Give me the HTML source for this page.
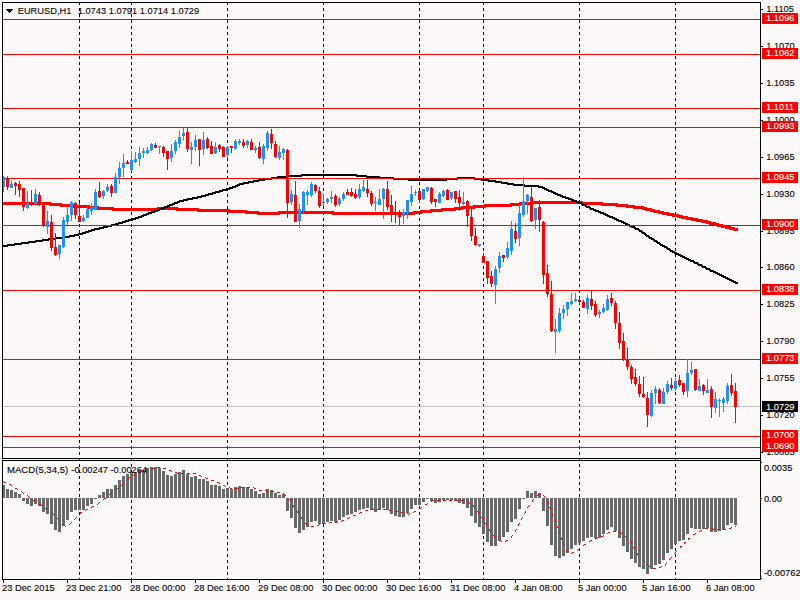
<!DOCTYPE html>
<html><head><meta charset="utf-8"><title>EURUSD,H1</title>
<style>html,body{margin:0;padding:0;background:#FDF9F8;}svg{display:block}</style>
</head><body>
<svg width="800" height="600" viewBox="0 0 800 600">
<rect x="0" y="0" width="800" height="600" fill="#FDF9F8"/>
<g shape-rendering="crispEdges">
<rect x="79" y="2" width="1" height="3" fill="#000"/>
<rect x="79" y="8" width="1" height="3" fill="#000"/>
<rect x="79" y="14" width="1" height="3" fill="#000"/>
<rect x="79" y="20" width="1" height="3" fill="#000"/>
<rect x="79" y="26" width="1" height="3" fill="#000"/>
<rect x="79" y="32" width="1" height="3" fill="#000"/>
<rect x="79" y="38" width="1" height="3" fill="#000"/>
<rect x="79" y="44" width="1" height="3" fill="#000"/>
<rect x="79" y="50" width="1" height="3" fill="#000"/>
<rect x="79" y="56" width="1" height="3" fill="#000"/>
<rect x="79" y="62" width="1" height="3" fill="#000"/>
<rect x="79" y="68" width="1" height="3" fill="#000"/>
<rect x="79" y="74" width="1" height="3" fill="#000"/>
<rect x="79" y="80" width="1" height="3" fill="#000"/>
<rect x="79" y="86" width="1" height="3" fill="#000"/>
<rect x="79" y="92" width="1" height="3" fill="#000"/>
<rect x="79" y="98" width="1" height="3" fill="#000"/>
<rect x="79" y="104" width="1" height="3" fill="#000"/>
<rect x="79" y="110" width="1" height="3" fill="#000"/>
<rect x="79" y="116" width="1" height="3" fill="#000"/>
<rect x="79" y="122" width="1" height="3" fill="#000"/>
<rect x="79" y="128" width="1" height="3" fill="#000"/>
<rect x="79" y="134" width="1" height="3" fill="#000"/>
<rect x="79" y="140" width="1" height="3" fill="#000"/>
<rect x="79" y="146" width="1" height="3" fill="#000"/>
<rect x="79" y="152" width="1" height="3" fill="#000"/>
<rect x="79" y="158" width="1" height="3" fill="#000"/>
<rect x="79" y="164" width="1" height="3" fill="#000"/>
<rect x="79" y="170" width="1" height="3" fill="#000"/>
<rect x="79" y="176" width="1" height="3" fill="#000"/>
<rect x="79" y="182" width="1" height="3" fill="#000"/>
<rect x="79" y="188" width="1" height="3" fill="#000"/>
<rect x="79" y="194" width="1" height="3" fill="#000"/>
<rect x="79" y="200" width="1" height="3" fill="#000"/>
<rect x="79" y="206" width="1" height="3" fill="#000"/>
<rect x="79" y="212" width="1" height="3" fill="#000"/>
<rect x="79" y="218" width="1" height="3" fill="#000"/>
<rect x="79" y="224" width="1" height="3" fill="#000"/>
<rect x="79" y="230" width="1" height="3" fill="#000"/>
<rect x="79" y="236" width="1" height="3" fill="#000"/>
<rect x="79" y="242" width="1" height="3" fill="#000"/>
<rect x="79" y="248" width="1" height="3" fill="#000"/>
<rect x="79" y="254" width="1" height="3" fill="#000"/>
<rect x="79" y="260" width="1" height="3" fill="#000"/>
<rect x="79" y="266" width="1" height="3" fill="#000"/>
<rect x="79" y="272" width="1" height="3" fill="#000"/>
<rect x="79" y="278" width="1" height="3" fill="#000"/>
<rect x="79" y="284" width="1" height="3" fill="#000"/>
<rect x="79" y="290" width="1" height="3" fill="#000"/>
<rect x="79" y="296" width="1" height="3" fill="#000"/>
<rect x="79" y="302" width="1" height="3" fill="#000"/>
<rect x="79" y="308" width="1" height="3" fill="#000"/>
<rect x="79" y="314" width="1" height="3" fill="#000"/>
<rect x="79" y="320" width="1" height="3" fill="#000"/>
<rect x="79" y="326" width="1" height="3" fill="#000"/>
<rect x="79" y="332" width="1" height="3" fill="#000"/>
<rect x="79" y="338" width="1" height="3" fill="#000"/>
<rect x="79" y="344" width="1" height="3" fill="#000"/>
<rect x="79" y="350" width="1" height="3" fill="#000"/>
<rect x="79" y="356" width="1" height="3" fill="#000"/>
<rect x="79" y="362" width="1" height="3" fill="#000"/>
<rect x="79" y="368" width="1" height="3" fill="#000"/>
<rect x="79" y="374" width="1" height="3" fill="#000"/>
<rect x="79" y="380" width="1" height="3" fill="#000"/>
<rect x="79" y="386" width="1" height="3" fill="#000"/>
<rect x="79" y="392" width="1" height="3" fill="#000"/>
<rect x="79" y="398" width="1" height="3" fill="#000"/>
<rect x="79" y="404" width="1" height="3" fill="#000"/>
<rect x="79" y="410" width="1" height="3" fill="#000"/>
<rect x="79" y="416" width="1" height="3" fill="#000"/>
<rect x="79" y="422" width="1" height="3" fill="#000"/>
<rect x="79" y="428" width="1" height="3" fill="#000"/>
<rect x="79" y="434" width="1" height="3" fill="#000"/>
<rect x="79" y="440" width="1" height="3" fill="#000"/>
<rect x="79" y="446" width="1" height="3" fill="#000"/>
<rect x="79" y="452" width="1" height="3" fill="#000"/>
<rect x="79" y="458" width="1" height="3" fill="#000"/>
<rect x="79" y="464" width="1" height="3" fill="#000"/>
<rect x="79" y="470" width="1" height="3" fill="#000"/>
<rect x="79" y="476" width="1" height="3" fill="#000"/>
<rect x="79" y="482" width="1" height="3" fill="#000"/>
<rect x="79" y="488" width="1" height="3" fill="#000"/>
<rect x="79" y="494" width="1" height="3" fill="#000"/>
<rect x="79" y="500" width="1" height="3" fill="#000"/>
<rect x="79" y="506" width="1" height="3" fill="#000"/>
<rect x="79" y="512" width="1" height="3" fill="#000"/>
<rect x="79" y="518" width="1" height="3" fill="#000"/>
<rect x="79" y="524" width="1" height="3" fill="#000"/>
<rect x="79" y="530" width="1" height="3" fill="#000"/>
<rect x="79" y="536" width="1" height="3" fill="#000"/>
<rect x="79" y="542" width="1" height="3" fill="#000"/>
<rect x="79" y="548" width="1" height="3" fill="#000"/>
<rect x="79" y="554" width="1" height="3" fill="#000"/>
<rect x="79" y="560" width="1" height="3" fill="#000"/>
<rect x="79" y="566" width="1" height="3" fill="#000"/>
<rect x="79" y="572" width="1" height="3" fill="#000"/>
<rect x="79" y="578" width="1" height="1" fill="#000"/>
<rect x="131" y="2" width="1" height="3" fill="#000"/>
<rect x="131" y="8" width="1" height="3" fill="#000"/>
<rect x="131" y="14" width="1" height="3" fill="#000"/>
<rect x="131" y="20" width="1" height="3" fill="#000"/>
<rect x="131" y="26" width="1" height="3" fill="#000"/>
<rect x="131" y="32" width="1" height="3" fill="#000"/>
<rect x="131" y="38" width="1" height="3" fill="#000"/>
<rect x="131" y="44" width="1" height="3" fill="#000"/>
<rect x="131" y="50" width="1" height="3" fill="#000"/>
<rect x="131" y="56" width="1" height="3" fill="#000"/>
<rect x="131" y="62" width="1" height="3" fill="#000"/>
<rect x="131" y="68" width="1" height="3" fill="#000"/>
<rect x="131" y="74" width="1" height="3" fill="#000"/>
<rect x="131" y="80" width="1" height="3" fill="#000"/>
<rect x="131" y="86" width="1" height="3" fill="#000"/>
<rect x="131" y="92" width="1" height="3" fill="#000"/>
<rect x="131" y="98" width="1" height="3" fill="#000"/>
<rect x="131" y="104" width="1" height="3" fill="#000"/>
<rect x="131" y="110" width="1" height="3" fill="#000"/>
<rect x="131" y="116" width="1" height="3" fill="#000"/>
<rect x="131" y="122" width="1" height="3" fill="#000"/>
<rect x="131" y="128" width="1" height="3" fill="#000"/>
<rect x="131" y="134" width="1" height="3" fill="#000"/>
<rect x="131" y="140" width="1" height="3" fill="#000"/>
<rect x="131" y="146" width="1" height="3" fill="#000"/>
<rect x="131" y="152" width="1" height="3" fill="#000"/>
<rect x="131" y="158" width="1" height="3" fill="#000"/>
<rect x="131" y="164" width="1" height="3" fill="#000"/>
<rect x="131" y="170" width="1" height="3" fill="#000"/>
<rect x="131" y="176" width="1" height="3" fill="#000"/>
<rect x="131" y="182" width="1" height="3" fill="#000"/>
<rect x="131" y="188" width="1" height="3" fill="#000"/>
<rect x="131" y="194" width="1" height="3" fill="#000"/>
<rect x="131" y="200" width="1" height="3" fill="#000"/>
<rect x="131" y="206" width="1" height="3" fill="#000"/>
<rect x="131" y="212" width="1" height="3" fill="#000"/>
<rect x="131" y="218" width="1" height="3" fill="#000"/>
<rect x="131" y="224" width="1" height="3" fill="#000"/>
<rect x="131" y="230" width="1" height="3" fill="#000"/>
<rect x="131" y="236" width="1" height="3" fill="#000"/>
<rect x="131" y="242" width="1" height="3" fill="#000"/>
<rect x="131" y="248" width="1" height="3" fill="#000"/>
<rect x="131" y="254" width="1" height="3" fill="#000"/>
<rect x="131" y="260" width="1" height="3" fill="#000"/>
<rect x="131" y="266" width="1" height="3" fill="#000"/>
<rect x="131" y="272" width="1" height="3" fill="#000"/>
<rect x="131" y="278" width="1" height="3" fill="#000"/>
<rect x="131" y="284" width="1" height="3" fill="#000"/>
<rect x="131" y="290" width="1" height="3" fill="#000"/>
<rect x="131" y="296" width="1" height="3" fill="#000"/>
<rect x="131" y="302" width="1" height="3" fill="#000"/>
<rect x="131" y="308" width="1" height="3" fill="#000"/>
<rect x="131" y="314" width="1" height="3" fill="#000"/>
<rect x="131" y="320" width="1" height="3" fill="#000"/>
<rect x="131" y="326" width="1" height="3" fill="#000"/>
<rect x="131" y="332" width="1" height="3" fill="#000"/>
<rect x="131" y="338" width="1" height="3" fill="#000"/>
<rect x="131" y="344" width="1" height="3" fill="#000"/>
<rect x="131" y="350" width="1" height="3" fill="#000"/>
<rect x="131" y="356" width="1" height="3" fill="#000"/>
<rect x="131" y="362" width="1" height="3" fill="#000"/>
<rect x="131" y="368" width="1" height="3" fill="#000"/>
<rect x="131" y="374" width="1" height="3" fill="#000"/>
<rect x="131" y="380" width="1" height="3" fill="#000"/>
<rect x="131" y="386" width="1" height="3" fill="#000"/>
<rect x="131" y="392" width="1" height="3" fill="#000"/>
<rect x="131" y="398" width="1" height="3" fill="#000"/>
<rect x="131" y="404" width="1" height="3" fill="#000"/>
<rect x="131" y="410" width="1" height="3" fill="#000"/>
<rect x="131" y="416" width="1" height="3" fill="#000"/>
<rect x="131" y="422" width="1" height="3" fill="#000"/>
<rect x="131" y="428" width="1" height="3" fill="#000"/>
<rect x="131" y="434" width="1" height="3" fill="#000"/>
<rect x="131" y="440" width="1" height="3" fill="#000"/>
<rect x="131" y="446" width="1" height="3" fill="#000"/>
<rect x="131" y="452" width="1" height="3" fill="#000"/>
<rect x="131" y="458" width="1" height="3" fill="#000"/>
<rect x="131" y="464" width="1" height="3" fill="#000"/>
<rect x="131" y="470" width="1" height="3" fill="#000"/>
<rect x="131" y="476" width="1" height="3" fill="#000"/>
<rect x="131" y="482" width="1" height="3" fill="#000"/>
<rect x="131" y="488" width="1" height="3" fill="#000"/>
<rect x="131" y="494" width="1" height="3" fill="#000"/>
<rect x="131" y="500" width="1" height="3" fill="#000"/>
<rect x="131" y="506" width="1" height="3" fill="#000"/>
<rect x="131" y="512" width="1" height="3" fill="#000"/>
<rect x="131" y="518" width="1" height="3" fill="#000"/>
<rect x="131" y="524" width="1" height="3" fill="#000"/>
<rect x="131" y="530" width="1" height="3" fill="#000"/>
<rect x="131" y="536" width="1" height="3" fill="#000"/>
<rect x="131" y="542" width="1" height="3" fill="#000"/>
<rect x="131" y="548" width="1" height="3" fill="#000"/>
<rect x="131" y="554" width="1" height="3" fill="#000"/>
<rect x="131" y="560" width="1" height="3" fill="#000"/>
<rect x="131" y="566" width="1" height="3" fill="#000"/>
<rect x="131" y="572" width="1" height="3" fill="#000"/>
<rect x="131" y="578" width="1" height="1" fill="#000"/>
<rect x="227" y="2" width="1" height="3" fill="#000"/>
<rect x="227" y="8" width="1" height="3" fill="#000"/>
<rect x="227" y="14" width="1" height="3" fill="#000"/>
<rect x="227" y="20" width="1" height="3" fill="#000"/>
<rect x="227" y="26" width="1" height="3" fill="#000"/>
<rect x="227" y="32" width="1" height="3" fill="#000"/>
<rect x="227" y="38" width="1" height="3" fill="#000"/>
<rect x="227" y="44" width="1" height="3" fill="#000"/>
<rect x="227" y="50" width="1" height="3" fill="#000"/>
<rect x="227" y="56" width="1" height="3" fill="#000"/>
<rect x="227" y="62" width="1" height="3" fill="#000"/>
<rect x="227" y="68" width="1" height="3" fill="#000"/>
<rect x="227" y="74" width="1" height="3" fill="#000"/>
<rect x="227" y="80" width="1" height="3" fill="#000"/>
<rect x="227" y="86" width="1" height="3" fill="#000"/>
<rect x="227" y="92" width="1" height="3" fill="#000"/>
<rect x="227" y="98" width="1" height="3" fill="#000"/>
<rect x="227" y="104" width="1" height="3" fill="#000"/>
<rect x="227" y="110" width="1" height="3" fill="#000"/>
<rect x="227" y="116" width="1" height="3" fill="#000"/>
<rect x="227" y="122" width="1" height="3" fill="#000"/>
<rect x="227" y="128" width="1" height="3" fill="#000"/>
<rect x="227" y="134" width="1" height="3" fill="#000"/>
<rect x="227" y="140" width="1" height="3" fill="#000"/>
<rect x="227" y="146" width="1" height="3" fill="#000"/>
<rect x="227" y="152" width="1" height="3" fill="#000"/>
<rect x="227" y="158" width="1" height="3" fill="#000"/>
<rect x="227" y="164" width="1" height="3" fill="#000"/>
<rect x="227" y="170" width="1" height="3" fill="#000"/>
<rect x="227" y="176" width="1" height="3" fill="#000"/>
<rect x="227" y="182" width="1" height="3" fill="#000"/>
<rect x="227" y="188" width="1" height="3" fill="#000"/>
<rect x="227" y="194" width="1" height="3" fill="#000"/>
<rect x="227" y="200" width="1" height="3" fill="#000"/>
<rect x="227" y="206" width="1" height="3" fill="#000"/>
<rect x="227" y="212" width="1" height="3" fill="#000"/>
<rect x="227" y="218" width="1" height="3" fill="#000"/>
<rect x="227" y="224" width="1" height="3" fill="#000"/>
<rect x="227" y="230" width="1" height="3" fill="#000"/>
<rect x="227" y="236" width="1" height="3" fill="#000"/>
<rect x="227" y="242" width="1" height="3" fill="#000"/>
<rect x="227" y="248" width="1" height="3" fill="#000"/>
<rect x="227" y="254" width="1" height="3" fill="#000"/>
<rect x="227" y="260" width="1" height="3" fill="#000"/>
<rect x="227" y="266" width="1" height="3" fill="#000"/>
<rect x="227" y="272" width="1" height="3" fill="#000"/>
<rect x="227" y="278" width="1" height="3" fill="#000"/>
<rect x="227" y="284" width="1" height="3" fill="#000"/>
<rect x="227" y="290" width="1" height="3" fill="#000"/>
<rect x="227" y="296" width="1" height="3" fill="#000"/>
<rect x="227" y="302" width="1" height="3" fill="#000"/>
<rect x="227" y="308" width="1" height="3" fill="#000"/>
<rect x="227" y="314" width="1" height="3" fill="#000"/>
<rect x="227" y="320" width="1" height="3" fill="#000"/>
<rect x="227" y="326" width="1" height="3" fill="#000"/>
<rect x="227" y="332" width="1" height="3" fill="#000"/>
<rect x="227" y="338" width="1" height="3" fill="#000"/>
<rect x="227" y="344" width="1" height="3" fill="#000"/>
<rect x="227" y="350" width="1" height="3" fill="#000"/>
<rect x="227" y="356" width="1" height="3" fill="#000"/>
<rect x="227" y="362" width="1" height="3" fill="#000"/>
<rect x="227" y="368" width="1" height="3" fill="#000"/>
<rect x="227" y="374" width="1" height="3" fill="#000"/>
<rect x="227" y="380" width="1" height="3" fill="#000"/>
<rect x="227" y="386" width="1" height="3" fill="#000"/>
<rect x="227" y="392" width="1" height="3" fill="#000"/>
<rect x="227" y="398" width="1" height="3" fill="#000"/>
<rect x="227" y="404" width="1" height="3" fill="#000"/>
<rect x="227" y="410" width="1" height="3" fill="#000"/>
<rect x="227" y="416" width="1" height="3" fill="#000"/>
<rect x="227" y="422" width="1" height="3" fill="#000"/>
<rect x="227" y="428" width="1" height="3" fill="#000"/>
<rect x="227" y="434" width="1" height="3" fill="#000"/>
<rect x="227" y="440" width="1" height="3" fill="#000"/>
<rect x="227" y="446" width="1" height="3" fill="#000"/>
<rect x="227" y="452" width="1" height="3" fill="#000"/>
<rect x="227" y="458" width="1" height="3" fill="#000"/>
<rect x="227" y="464" width="1" height="3" fill="#000"/>
<rect x="227" y="470" width="1" height="3" fill="#000"/>
<rect x="227" y="476" width="1" height="3" fill="#000"/>
<rect x="227" y="482" width="1" height="3" fill="#000"/>
<rect x="227" y="488" width="1" height="3" fill="#000"/>
<rect x="227" y="494" width="1" height="3" fill="#000"/>
<rect x="227" y="500" width="1" height="3" fill="#000"/>
<rect x="227" y="506" width="1" height="3" fill="#000"/>
<rect x="227" y="512" width="1" height="3" fill="#000"/>
<rect x="227" y="518" width="1" height="3" fill="#000"/>
<rect x="227" y="524" width="1" height="3" fill="#000"/>
<rect x="227" y="530" width="1" height="3" fill="#000"/>
<rect x="227" y="536" width="1" height="3" fill="#000"/>
<rect x="227" y="542" width="1" height="3" fill="#000"/>
<rect x="227" y="548" width="1" height="3" fill="#000"/>
<rect x="227" y="554" width="1" height="3" fill="#000"/>
<rect x="227" y="560" width="1" height="3" fill="#000"/>
<rect x="227" y="566" width="1" height="3" fill="#000"/>
<rect x="227" y="572" width="1" height="3" fill="#000"/>
<rect x="227" y="578" width="1" height="1" fill="#000"/>
<rect x="323" y="2" width="1" height="3" fill="#000"/>
<rect x="323" y="8" width="1" height="3" fill="#000"/>
<rect x="323" y="14" width="1" height="3" fill="#000"/>
<rect x="323" y="20" width="1" height="3" fill="#000"/>
<rect x="323" y="26" width="1" height="3" fill="#000"/>
<rect x="323" y="32" width="1" height="3" fill="#000"/>
<rect x="323" y="38" width="1" height="3" fill="#000"/>
<rect x="323" y="44" width="1" height="3" fill="#000"/>
<rect x="323" y="50" width="1" height="3" fill="#000"/>
<rect x="323" y="56" width="1" height="3" fill="#000"/>
<rect x="323" y="62" width="1" height="3" fill="#000"/>
<rect x="323" y="68" width="1" height="3" fill="#000"/>
<rect x="323" y="74" width="1" height="3" fill="#000"/>
<rect x="323" y="80" width="1" height="3" fill="#000"/>
<rect x="323" y="86" width="1" height="3" fill="#000"/>
<rect x="323" y="92" width="1" height="3" fill="#000"/>
<rect x="323" y="98" width="1" height="3" fill="#000"/>
<rect x="323" y="104" width="1" height="3" fill="#000"/>
<rect x="323" y="110" width="1" height="3" fill="#000"/>
<rect x="323" y="116" width="1" height="3" fill="#000"/>
<rect x="323" y="122" width="1" height="3" fill="#000"/>
<rect x="323" y="128" width="1" height="3" fill="#000"/>
<rect x="323" y="134" width="1" height="3" fill="#000"/>
<rect x="323" y="140" width="1" height="3" fill="#000"/>
<rect x="323" y="146" width="1" height="3" fill="#000"/>
<rect x="323" y="152" width="1" height="3" fill="#000"/>
<rect x="323" y="158" width="1" height="3" fill="#000"/>
<rect x="323" y="164" width="1" height="3" fill="#000"/>
<rect x="323" y="170" width="1" height="3" fill="#000"/>
<rect x="323" y="176" width="1" height="3" fill="#000"/>
<rect x="323" y="182" width="1" height="3" fill="#000"/>
<rect x="323" y="188" width="1" height="3" fill="#000"/>
<rect x="323" y="194" width="1" height="3" fill="#000"/>
<rect x="323" y="200" width="1" height="3" fill="#000"/>
<rect x="323" y="206" width="1" height="3" fill="#000"/>
<rect x="323" y="212" width="1" height="3" fill="#000"/>
<rect x="323" y="218" width="1" height="3" fill="#000"/>
<rect x="323" y="224" width="1" height="3" fill="#000"/>
<rect x="323" y="230" width="1" height="3" fill="#000"/>
<rect x="323" y="236" width="1" height="3" fill="#000"/>
<rect x="323" y="242" width="1" height="3" fill="#000"/>
<rect x="323" y="248" width="1" height="3" fill="#000"/>
<rect x="323" y="254" width="1" height="3" fill="#000"/>
<rect x="323" y="260" width="1" height="3" fill="#000"/>
<rect x="323" y="266" width="1" height="3" fill="#000"/>
<rect x="323" y="272" width="1" height="3" fill="#000"/>
<rect x="323" y="278" width="1" height="3" fill="#000"/>
<rect x="323" y="284" width="1" height="3" fill="#000"/>
<rect x="323" y="290" width="1" height="3" fill="#000"/>
<rect x="323" y="296" width="1" height="3" fill="#000"/>
<rect x="323" y="302" width="1" height="3" fill="#000"/>
<rect x="323" y="308" width="1" height="3" fill="#000"/>
<rect x="323" y="314" width="1" height="3" fill="#000"/>
<rect x="323" y="320" width="1" height="3" fill="#000"/>
<rect x="323" y="326" width="1" height="3" fill="#000"/>
<rect x="323" y="332" width="1" height="3" fill="#000"/>
<rect x="323" y="338" width="1" height="3" fill="#000"/>
<rect x="323" y="344" width="1" height="3" fill="#000"/>
<rect x="323" y="350" width="1" height="3" fill="#000"/>
<rect x="323" y="356" width="1" height="3" fill="#000"/>
<rect x="323" y="362" width="1" height="3" fill="#000"/>
<rect x="323" y="368" width="1" height="3" fill="#000"/>
<rect x="323" y="374" width="1" height="3" fill="#000"/>
<rect x="323" y="380" width="1" height="3" fill="#000"/>
<rect x="323" y="386" width="1" height="3" fill="#000"/>
<rect x="323" y="392" width="1" height="3" fill="#000"/>
<rect x="323" y="398" width="1" height="3" fill="#000"/>
<rect x="323" y="404" width="1" height="3" fill="#000"/>
<rect x="323" y="410" width="1" height="3" fill="#000"/>
<rect x="323" y="416" width="1" height="3" fill="#000"/>
<rect x="323" y="422" width="1" height="3" fill="#000"/>
<rect x="323" y="428" width="1" height="3" fill="#000"/>
<rect x="323" y="434" width="1" height="3" fill="#000"/>
<rect x="323" y="440" width="1" height="3" fill="#000"/>
<rect x="323" y="446" width="1" height="3" fill="#000"/>
<rect x="323" y="452" width="1" height="3" fill="#000"/>
<rect x="323" y="458" width="1" height="3" fill="#000"/>
<rect x="323" y="464" width="1" height="3" fill="#000"/>
<rect x="323" y="470" width="1" height="3" fill="#000"/>
<rect x="323" y="476" width="1" height="3" fill="#000"/>
<rect x="323" y="482" width="1" height="3" fill="#000"/>
<rect x="323" y="488" width="1" height="3" fill="#000"/>
<rect x="323" y="494" width="1" height="3" fill="#000"/>
<rect x="323" y="500" width="1" height="3" fill="#000"/>
<rect x="323" y="506" width="1" height="3" fill="#000"/>
<rect x="323" y="512" width="1" height="3" fill="#000"/>
<rect x="323" y="518" width="1" height="3" fill="#000"/>
<rect x="323" y="524" width="1" height="3" fill="#000"/>
<rect x="323" y="530" width="1" height="3" fill="#000"/>
<rect x="323" y="536" width="1" height="3" fill="#000"/>
<rect x="323" y="542" width="1" height="3" fill="#000"/>
<rect x="323" y="548" width="1" height="3" fill="#000"/>
<rect x="323" y="554" width="1" height="3" fill="#000"/>
<rect x="323" y="560" width="1" height="3" fill="#000"/>
<rect x="323" y="566" width="1" height="3" fill="#000"/>
<rect x="323" y="572" width="1" height="3" fill="#000"/>
<rect x="323" y="578" width="1" height="1" fill="#000"/>
<rect x="419" y="2" width="1" height="3" fill="#000"/>
<rect x="419" y="8" width="1" height="3" fill="#000"/>
<rect x="419" y="14" width="1" height="3" fill="#000"/>
<rect x="419" y="20" width="1" height="3" fill="#000"/>
<rect x="419" y="26" width="1" height="3" fill="#000"/>
<rect x="419" y="32" width="1" height="3" fill="#000"/>
<rect x="419" y="38" width="1" height="3" fill="#000"/>
<rect x="419" y="44" width="1" height="3" fill="#000"/>
<rect x="419" y="50" width="1" height="3" fill="#000"/>
<rect x="419" y="56" width="1" height="3" fill="#000"/>
<rect x="419" y="62" width="1" height="3" fill="#000"/>
<rect x="419" y="68" width="1" height="3" fill="#000"/>
<rect x="419" y="74" width="1" height="3" fill="#000"/>
<rect x="419" y="80" width="1" height="3" fill="#000"/>
<rect x="419" y="86" width="1" height="3" fill="#000"/>
<rect x="419" y="92" width="1" height="3" fill="#000"/>
<rect x="419" y="98" width="1" height="3" fill="#000"/>
<rect x="419" y="104" width="1" height="3" fill="#000"/>
<rect x="419" y="110" width="1" height="3" fill="#000"/>
<rect x="419" y="116" width="1" height="3" fill="#000"/>
<rect x="419" y="122" width="1" height="3" fill="#000"/>
<rect x="419" y="128" width="1" height="3" fill="#000"/>
<rect x="419" y="134" width="1" height="3" fill="#000"/>
<rect x="419" y="140" width="1" height="3" fill="#000"/>
<rect x="419" y="146" width="1" height="3" fill="#000"/>
<rect x="419" y="152" width="1" height="3" fill="#000"/>
<rect x="419" y="158" width="1" height="3" fill="#000"/>
<rect x="419" y="164" width="1" height="3" fill="#000"/>
<rect x="419" y="170" width="1" height="3" fill="#000"/>
<rect x="419" y="176" width="1" height="3" fill="#000"/>
<rect x="419" y="182" width="1" height="3" fill="#000"/>
<rect x="419" y="188" width="1" height="3" fill="#000"/>
<rect x="419" y="194" width="1" height="3" fill="#000"/>
<rect x="419" y="200" width="1" height="3" fill="#000"/>
<rect x="419" y="206" width="1" height="3" fill="#000"/>
<rect x="419" y="212" width="1" height="3" fill="#000"/>
<rect x="419" y="218" width="1" height="3" fill="#000"/>
<rect x="419" y="224" width="1" height="3" fill="#000"/>
<rect x="419" y="230" width="1" height="3" fill="#000"/>
<rect x="419" y="236" width="1" height="3" fill="#000"/>
<rect x="419" y="242" width="1" height="3" fill="#000"/>
<rect x="419" y="248" width="1" height="3" fill="#000"/>
<rect x="419" y="254" width="1" height="3" fill="#000"/>
<rect x="419" y="260" width="1" height="3" fill="#000"/>
<rect x="419" y="266" width="1" height="3" fill="#000"/>
<rect x="419" y="272" width="1" height="3" fill="#000"/>
<rect x="419" y="278" width="1" height="3" fill="#000"/>
<rect x="419" y="284" width="1" height="3" fill="#000"/>
<rect x="419" y="290" width="1" height="3" fill="#000"/>
<rect x="419" y="296" width="1" height="3" fill="#000"/>
<rect x="419" y="302" width="1" height="3" fill="#000"/>
<rect x="419" y="308" width="1" height="3" fill="#000"/>
<rect x="419" y="314" width="1" height="3" fill="#000"/>
<rect x="419" y="320" width="1" height="3" fill="#000"/>
<rect x="419" y="326" width="1" height="3" fill="#000"/>
<rect x="419" y="332" width="1" height="3" fill="#000"/>
<rect x="419" y="338" width="1" height="3" fill="#000"/>
<rect x="419" y="344" width="1" height="3" fill="#000"/>
<rect x="419" y="350" width="1" height="3" fill="#000"/>
<rect x="419" y="356" width="1" height="3" fill="#000"/>
<rect x="419" y="362" width="1" height="3" fill="#000"/>
<rect x="419" y="368" width="1" height="3" fill="#000"/>
<rect x="419" y="374" width="1" height="3" fill="#000"/>
<rect x="419" y="380" width="1" height="3" fill="#000"/>
<rect x="419" y="386" width="1" height="3" fill="#000"/>
<rect x="419" y="392" width="1" height="3" fill="#000"/>
<rect x="419" y="398" width="1" height="3" fill="#000"/>
<rect x="419" y="404" width="1" height="3" fill="#000"/>
<rect x="419" y="410" width="1" height="3" fill="#000"/>
<rect x="419" y="416" width="1" height="3" fill="#000"/>
<rect x="419" y="422" width="1" height="3" fill="#000"/>
<rect x="419" y="428" width="1" height="3" fill="#000"/>
<rect x="419" y="434" width="1" height="3" fill="#000"/>
<rect x="419" y="440" width="1" height="3" fill="#000"/>
<rect x="419" y="446" width="1" height="3" fill="#000"/>
<rect x="419" y="452" width="1" height="3" fill="#000"/>
<rect x="419" y="458" width="1" height="3" fill="#000"/>
<rect x="419" y="464" width="1" height="3" fill="#000"/>
<rect x="419" y="470" width="1" height="3" fill="#000"/>
<rect x="419" y="476" width="1" height="3" fill="#000"/>
<rect x="419" y="482" width="1" height="3" fill="#000"/>
<rect x="419" y="488" width="1" height="3" fill="#000"/>
<rect x="419" y="494" width="1" height="3" fill="#000"/>
<rect x="419" y="500" width="1" height="3" fill="#000"/>
<rect x="419" y="506" width="1" height="3" fill="#000"/>
<rect x="419" y="512" width="1" height="3" fill="#000"/>
<rect x="419" y="518" width="1" height="3" fill="#000"/>
<rect x="419" y="524" width="1" height="3" fill="#000"/>
<rect x="419" y="530" width="1" height="3" fill="#000"/>
<rect x="419" y="536" width="1" height="3" fill="#000"/>
<rect x="419" y="542" width="1" height="3" fill="#000"/>
<rect x="419" y="548" width="1" height="3" fill="#000"/>
<rect x="419" y="554" width="1" height="3" fill="#000"/>
<rect x="419" y="560" width="1" height="3" fill="#000"/>
<rect x="419" y="566" width="1" height="3" fill="#000"/>
<rect x="419" y="572" width="1" height="3" fill="#000"/>
<rect x="419" y="578" width="1" height="1" fill="#000"/>
<rect x="483" y="2" width="1" height="3" fill="#000"/>
<rect x="483" y="8" width="1" height="3" fill="#000"/>
<rect x="483" y="14" width="1" height="3" fill="#000"/>
<rect x="483" y="20" width="1" height="3" fill="#000"/>
<rect x="483" y="26" width="1" height="3" fill="#000"/>
<rect x="483" y="32" width="1" height="3" fill="#000"/>
<rect x="483" y="38" width="1" height="3" fill="#000"/>
<rect x="483" y="44" width="1" height="3" fill="#000"/>
<rect x="483" y="50" width="1" height="3" fill="#000"/>
<rect x="483" y="56" width="1" height="3" fill="#000"/>
<rect x="483" y="62" width="1" height="3" fill="#000"/>
<rect x="483" y="68" width="1" height="3" fill="#000"/>
<rect x="483" y="74" width="1" height="3" fill="#000"/>
<rect x="483" y="80" width="1" height="3" fill="#000"/>
<rect x="483" y="86" width="1" height="3" fill="#000"/>
<rect x="483" y="92" width="1" height="3" fill="#000"/>
<rect x="483" y="98" width="1" height="3" fill="#000"/>
<rect x="483" y="104" width="1" height="3" fill="#000"/>
<rect x="483" y="110" width="1" height="3" fill="#000"/>
<rect x="483" y="116" width="1" height="3" fill="#000"/>
<rect x="483" y="122" width="1" height="3" fill="#000"/>
<rect x="483" y="128" width="1" height="3" fill="#000"/>
<rect x="483" y="134" width="1" height="3" fill="#000"/>
<rect x="483" y="140" width="1" height="3" fill="#000"/>
<rect x="483" y="146" width="1" height="3" fill="#000"/>
<rect x="483" y="152" width="1" height="3" fill="#000"/>
<rect x="483" y="158" width="1" height="3" fill="#000"/>
<rect x="483" y="164" width="1" height="3" fill="#000"/>
<rect x="483" y="170" width="1" height="3" fill="#000"/>
<rect x="483" y="176" width="1" height="3" fill="#000"/>
<rect x="483" y="182" width="1" height="3" fill="#000"/>
<rect x="483" y="188" width="1" height="3" fill="#000"/>
<rect x="483" y="194" width="1" height="3" fill="#000"/>
<rect x="483" y="200" width="1" height="3" fill="#000"/>
<rect x="483" y="206" width="1" height="3" fill="#000"/>
<rect x="483" y="212" width="1" height="3" fill="#000"/>
<rect x="483" y="218" width="1" height="3" fill="#000"/>
<rect x="483" y="224" width="1" height="3" fill="#000"/>
<rect x="483" y="230" width="1" height="3" fill="#000"/>
<rect x="483" y="236" width="1" height="3" fill="#000"/>
<rect x="483" y="242" width="1" height="3" fill="#000"/>
<rect x="483" y="248" width="1" height="3" fill="#000"/>
<rect x="483" y="254" width="1" height="3" fill="#000"/>
<rect x="483" y="260" width="1" height="3" fill="#000"/>
<rect x="483" y="266" width="1" height="3" fill="#000"/>
<rect x="483" y="272" width="1" height="3" fill="#000"/>
<rect x="483" y="278" width="1" height="3" fill="#000"/>
<rect x="483" y="284" width="1" height="3" fill="#000"/>
<rect x="483" y="290" width="1" height="3" fill="#000"/>
<rect x="483" y="296" width="1" height="3" fill="#000"/>
<rect x="483" y="302" width="1" height="3" fill="#000"/>
<rect x="483" y="308" width="1" height="3" fill="#000"/>
<rect x="483" y="314" width="1" height="3" fill="#000"/>
<rect x="483" y="320" width="1" height="3" fill="#000"/>
<rect x="483" y="326" width="1" height="3" fill="#000"/>
<rect x="483" y="332" width="1" height="3" fill="#000"/>
<rect x="483" y="338" width="1" height="3" fill="#000"/>
<rect x="483" y="344" width="1" height="3" fill="#000"/>
<rect x="483" y="350" width="1" height="3" fill="#000"/>
<rect x="483" y="356" width="1" height="3" fill="#000"/>
<rect x="483" y="362" width="1" height="3" fill="#000"/>
<rect x="483" y="368" width="1" height="3" fill="#000"/>
<rect x="483" y="374" width="1" height="3" fill="#000"/>
<rect x="483" y="380" width="1" height="3" fill="#000"/>
<rect x="483" y="386" width="1" height="3" fill="#000"/>
<rect x="483" y="392" width="1" height="3" fill="#000"/>
<rect x="483" y="398" width="1" height="3" fill="#000"/>
<rect x="483" y="404" width="1" height="3" fill="#000"/>
<rect x="483" y="410" width="1" height="3" fill="#000"/>
<rect x="483" y="416" width="1" height="3" fill="#000"/>
<rect x="483" y="422" width="1" height="3" fill="#000"/>
<rect x="483" y="428" width="1" height="3" fill="#000"/>
<rect x="483" y="434" width="1" height="3" fill="#000"/>
<rect x="483" y="440" width="1" height="3" fill="#000"/>
<rect x="483" y="446" width="1" height="3" fill="#000"/>
<rect x="483" y="452" width="1" height="3" fill="#000"/>
<rect x="483" y="458" width="1" height="3" fill="#000"/>
<rect x="483" y="464" width="1" height="3" fill="#000"/>
<rect x="483" y="470" width="1" height="3" fill="#000"/>
<rect x="483" y="476" width="1" height="3" fill="#000"/>
<rect x="483" y="482" width="1" height="3" fill="#000"/>
<rect x="483" y="488" width="1" height="3" fill="#000"/>
<rect x="483" y="494" width="1" height="3" fill="#000"/>
<rect x="483" y="500" width="1" height="3" fill="#000"/>
<rect x="483" y="506" width="1" height="3" fill="#000"/>
<rect x="483" y="512" width="1" height="3" fill="#000"/>
<rect x="483" y="518" width="1" height="3" fill="#000"/>
<rect x="483" y="524" width="1" height="3" fill="#000"/>
<rect x="483" y="530" width="1" height="3" fill="#000"/>
<rect x="483" y="536" width="1" height="3" fill="#000"/>
<rect x="483" y="542" width="1" height="3" fill="#000"/>
<rect x="483" y="548" width="1" height="3" fill="#000"/>
<rect x="483" y="554" width="1" height="3" fill="#000"/>
<rect x="483" y="560" width="1" height="3" fill="#000"/>
<rect x="483" y="566" width="1" height="3" fill="#000"/>
<rect x="483" y="572" width="1" height="3" fill="#000"/>
<rect x="483" y="578" width="1" height="1" fill="#000"/>
<rect x="579" y="2" width="1" height="3" fill="#000"/>
<rect x="579" y="8" width="1" height="3" fill="#000"/>
<rect x="579" y="14" width="1" height="3" fill="#000"/>
<rect x="579" y="20" width="1" height="3" fill="#000"/>
<rect x="579" y="26" width="1" height="3" fill="#000"/>
<rect x="579" y="32" width="1" height="3" fill="#000"/>
<rect x="579" y="38" width="1" height="3" fill="#000"/>
<rect x="579" y="44" width="1" height="3" fill="#000"/>
<rect x="579" y="50" width="1" height="3" fill="#000"/>
<rect x="579" y="56" width="1" height="3" fill="#000"/>
<rect x="579" y="62" width="1" height="3" fill="#000"/>
<rect x="579" y="68" width="1" height="3" fill="#000"/>
<rect x="579" y="74" width="1" height="3" fill="#000"/>
<rect x="579" y="80" width="1" height="3" fill="#000"/>
<rect x="579" y="86" width="1" height="3" fill="#000"/>
<rect x="579" y="92" width="1" height="3" fill="#000"/>
<rect x="579" y="98" width="1" height="3" fill="#000"/>
<rect x="579" y="104" width="1" height="3" fill="#000"/>
<rect x="579" y="110" width="1" height="3" fill="#000"/>
<rect x="579" y="116" width="1" height="3" fill="#000"/>
<rect x="579" y="122" width="1" height="3" fill="#000"/>
<rect x="579" y="128" width="1" height="3" fill="#000"/>
<rect x="579" y="134" width="1" height="3" fill="#000"/>
<rect x="579" y="140" width="1" height="3" fill="#000"/>
<rect x="579" y="146" width="1" height="3" fill="#000"/>
<rect x="579" y="152" width="1" height="3" fill="#000"/>
<rect x="579" y="158" width="1" height="3" fill="#000"/>
<rect x="579" y="164" width="1" height="3" fill="#000"/>
<rect x="579" y="170" width="1" height="3" fill="#000"/>
<rect x="579" y="176" width="1" height="3" fill="#000"/>
<rect x="579" y="182" width="1" height="3" fill="#000"/>
<rect x="579" y="188" width="1" height="3" fill="#000"/>
<rect x="579" y="194" width="1" height="3" fill="#000"/>
<rect x="579" y="200" width="1" height="3" fill="#000"/>
<rect x="579" y="206" width="1" height="3" fill="#000"/>
<rect x="579" y="212" width="1" height="3" fill="#000"/>
<rect x="579" y="218" width="1" height="3" fill="#000"/>
<rect x="579" y="224" width="1" height="3" fill="#000"/>
<rect x="579" y="230" width="1" height="3" fill="#000"/>
<rect x="579" y="236" width="1" height="3" fill="#000"/>
<rect x="579" y="242" width="1" height="3" fill="#000"/>
<rect x="579" y="248" width="1" height="3" fill="#000"/>
<rect x="579" y="254" width="1" height="3" fill="#000"/>
<rect x="579" y="260" width="1" height="3" fill="#000"/>
<rect x="579" y="266" width="1" height="3" fill="#000"/>
<rect x="579" y="272" width="1" height="3" fill="#000"/>
<rect x="579" y="278" width="1" height="3" fill="#000"/>
<rect x="579" y="284" width="1" height="3" fill="#000"/>
<rect x="579" y="290" width="1" height="3" fill="#000"/>
<rect x="579" y="296" width="1" height="3" fill="#000"/>
<rect x="579" y="302" width="1" height="3" fill="#000"/>
<rect x="579" y="308" width="1" height="3" fill="#000"/>
<rect x="579" y="314" width="1" height="3" fill="#000"/>
<rect x="579" y="320" width="1" height="3" fill="#000"/>
<rect x="579" y="326" width="1" height="3" fill="#000"/>
<rect x="579" y="332" width="1" height="3" fill="#000"/>
<rect x="579" y="338" width="1" height="3" fill="#000"/>
<rect x="579" y="344" width="1" height="3" fill="#000"/>
<rect x="579" y="350" width="1" height="3" fill="#000"/>
<rect x="579" y="356" width="1" height="3" fill="#000"/>
<rect x="579" y="362" width="1" height="3" fill="#000"/>
<rect x="579" y="368" width="1" height="3" fill="#000"/>
<rect x="579" y="374" width="1" height="3" fill="#000"/>
<rect x="579" y="380" width="1" height="3" fill="#000"/>
<rect x="579" y="386" width="1" height="3" fill="#000"/>
<rect x="579" y="392" width="1" height="3" fill="#000"/>
<rect x="579" y="398" width="1" height="3" fill="#000"/>
<rect x="579" y="404" width="1" height="3" fill="#000"/>
<rect x="579" y="410" width="1" height="3" fill="#000"/>
<rect x="579" y="416" width="1" height="3" fill="#000"/>
<rect x="579" y="422" width="1" height="3" fill="#000"/>
<rect x="579" y="428" width="1" height="3" fill="#000"/>
<rect x="579" y="434" width="1" height="3" fill="#000"/>
<rect x="579" y="440" width="1" height="3" fill="#000"/>
<rect x="579" y="446" width="1" height="3" fill="#000"/>
<rect x="579" y="452" width="1" height="3" fill="#000"/>
<rect x="579" y="458" width="1" height="3" fill="#000"/>
<rect x="579" y="464" width="1" height="3" fill="#000"/>
<rect x="579" y="470" width="1" height="3" fill="#000"/>
<rect x="579" y="476" width="1" height="3" fill="#000"/>
<rect x="579" y="482" width="1" height="3" fill="#000"/>
<rect x="579" y="488" width="1" height="3" fill="#000"/>
<rect x="579" y="494" width="1" height="3" fill="#000"/>
<rect x="579" y="500" width="1" height="3" fill="#000"/>
<rect x="579" y="506" width="1" height="3" fill="#000"/>
<rect x="579" y="512" width="1" height="3" fill="#000"/>
<rect x="579" y="518" width="1" height="3" fill="#000"/>
<rect x="579" y="524" width="1" height="3" fill="#000"/>
<rect x="579" y="530" width="1" height="3" fill="#000"/>
<rect x="579" y="536" width="1" height="3" fill="#000"/>
<rect x="579" y="542" width="1" height="3" fill="#000"/>
<rect x="579" y="548" width="1" height="3" fill="#000"/>
<rect x="579" y="554" width="1" height="3" fill="#000"/>
<rect x="579" y="560" width="1" height="3" fill="#000"/>
<rect x="579" y="566" width="1" height="3" fill="#000"/>
<rect x="579" y="572" width="1" height="3" fill="#000"/>
<rect x="579" y="578" width="1" height="1" fill="#000"/>
<rect x="675" y="2" width="1" height="3" fill="#000"/>
<rect x="675" y="8" width="1" height="3" fill="#000"/>
<rect x="675" y="14" width="1" height="3" fill="#000"/>
<rect x="675" y="20" width="1" height="3" fill="#000"/>
<rect x="675" y="26" width="1" height="3" fill="#000"/>
<rect x="675" y="32" width="1" height="3" fill="#000"/>
<rect x="675" y="38" width="1" height="3" fill="#000"/>
<rect x="675" y="44" width="1" height="3" fill="#000"/>
<rect x="675" y="50" width="1" height="3" fill="#000"/>
<rect x="675" y="56" width="1" height="3" fill="#000"/>
<rect x="675" y="62" width="1" height="3" fill="#000"/>
<rect x="675" y="68" width="1" height="3" fill="#000"/>
<rect x="675" y="74" width="1" height="3" fill="#000"/>
<rect x="675" y="80" width="1" height="3" fill="#000"/>
<rect x="675" y="86" width="1" height="3" fill="#000"/>
<rect x="675" y="92" width="1" height="3" fill="#000"/>
<rect x="675" y="98" width="1" height="3" fill="#000"/>
<rect x="675" y="104" width="1" height="3" fill="#000"/>
<rect x="675" y="110" width="1" height="3" fill="#000"/>
<rect x="675" y="116" width="1" height="3" fill="#000"/>
<rect x="675" y="122" width="1" height="3" fill="#000"/>
<rect x="675" y="128" width="1" height="3" fill="#000"/>
<rect x="675" y="134" width="1" height="3" fill="#000"/>
<rect x="675" y="140" width="1" height="3" fill="#000"/>
<rect x="675" y="146" width="1" height="3" fill="#000"/>
<rect x="675" y="152" width="1" height="3" fill="#000"/>
<rect x="675" y="158" width="1" height="3" fill="#000"/>
<rect x="675" y="164" width="1" height="3" fill="#000"/>
<rect x="675" y="170" width="1" height="3" fill="#000"/>
<rect x="675" y="176" width="1" height="3" fill="#000"/>
<rect x="675" y="182" width="1" height="3" fill="#000"/>
<rect x="675" y="188" width="1" height="3" fill="#000"/>
<rect x="675" y="194" width="1" height="3" fill="#000"/>
<rect x="675" y="200" width="1" height="3" fill="#000"/>
<rect x="675" y="206" width="1" height="3" fill="#000"/>
<rect x="675" y="212" width="1" height="3" fill="#000"/>
<rect x="675" y="218" width="1" height="3" fill="#000"/>
<rect x="675" y="224" width="1" height="3" fill="#000"/>
<rect x="675" y="230" width="1" height="3" fill="#000"/>
<rect x="675" y="236" width="1" height="3" fill="#000"/>
<rect x="675" y="242" width="1" height="3" fill="#000"/>
<rect x="675" y="248" width="1" height="3" fill="#000"/>
<rect x="675" y="254" width="1" height="3" fill="#000"/>
<rect x="675" y="260" width="1" height="3" fill="#000"/>
<rect x="675" y="266" width="1" height="3" fill="#000"/>
<rect x="675" y="272" width="1" height="3" fill="#000"/>
<rect x="675" y="278" width="1" height="3" fill="#000"/>
<rect x="675" y="284" width="1" height="3" fill="#000"/>
<rect x="675" y="290" width="1" height="3" fill="#000"/>
<rect x="675" y="296" width="1" height="3" fill="#000"/>
<rect x="675" y="302" width="1" height="3" fill="#000"/>
<rect x="675" y="308" width="1" height="3" fill="#000"/>
<rect x="675" y="314" width="1" height="3" fill="#000"/>
<rect x="675" y="320" width="1" height="3" fill="#000"/>
<rect x="675" y="326" width="1" height="3" fill="#000"/>
<rect x="675" y="332" width="1" height="3" fill="#000"/>
<rect x="675" y="338" width="1" height="3" fill="#000"/>
<rect x="675" y="344" width="1" height="3" fill="#000"/>
<rect x="675" y="350" width="1" height="3" fill="#000"/>
<rect x="675" y="356" width="1" height="3" fill="#000"/>
<rect x="675" y="362" width="1" height="3" fill="#000"/>
<rect x="675" y="368" width="1" height="3" fill="#000"/>
<rect x="675" y="374" width="1" height="3" fill="#000"/>
<rect x="675" y="380" width="1" height="3" fill="#000"/>
<rect x="675" y="386" width="1" height="3" fill="#000"/>
<rect x="675" y="392" width="1" height="3" fill="#000"/>
<rect x="675" y="398" width="1" height="3" fill="#000"/>
<rect x="675" y="404" width="1" height="3" fill="#000"/>
<rect x="675" y="410" width="1" height="3" fill="#000"/>
<rect x="675" y="416" width="1" height="3" fill="#000"/>
<rect x="675" y="422" width="1" height="3" fill="#000"/>
<rect x="675" y="428" width="1" height="3" fill="#000"/>
<rect x="675" y="434" width="1" height="3" fill="#000"/>
<rect x="675" y="440" width="1" height="3" fill="#000"/>
<rect x="675" y="446" width="1" height="3" fill="#000"/>
<rect x="675" y="452" width="1" height="3" fill="#000"/>
<rect x="675" y="458" width="1" height="3" fill="#000"/>
<rect x="675" y="464" width="1" height="3" fill="#000"/>
<rect x="675" y="470" width="1" height="3" fill="#000"/>
<rect x="675" y="476" width="1" height="3" fill="#000"/>
<rect x="675" y="482" width="1" height="3" fill="#000"/>
<rect x="675" y="488" width="1" height="3" fill="#000"/>
<rect x="675" y="494" width="1" height="3" fill="#000"/>
<rect x="675" y="500" width="1" height="3" fill="#000"/>
<rect x="675" y="506" width="1" height="3" fill="#000"/>
<rect x="675" y="512" width="1" height="3" fill="#000"/>
<rect x="675" y="518" width="1" height="3" fill="#000"/>
<rect x="675" y="524" width="1" height="3" fill="#000"/>
<rect x="675" y="530" width="1" height="3" fill="#000"/>
<rect x="675" y="536" width="1" height="3" fill="#000"/>
<rect x="675" y="542" width="1" height="3" fill="#000"/>
<rect x="675" y="548" width="1" height="3" fill="#000"/>
<rect x="675" y="554" width="1" height="3" fill="#000"/>
<rect x="675" y="560" width="1" height="3" fill="#000"/>
<rect x="675" y="566" width="1" height="3" fill="#000"/>
<rect x="675" y="572" width="1" height="3" fill="#000"/>
<rect x="675" y="578" width="1" height="1" fill="#000"/>
<rect x="3" y="406" width="758" height="1" fill="#C0C0C0"/>
<rect x="2" y="202" width="49" height="3" fill="#FF0000"/>
<rect x="49" y="203" width="13" height="3" fill="#FF0000"/>
<rect x="60" y="204" width="14" height="3" fill="#FF0000"/>
<rect x="72" y="205" width="18" height="3" fill="#FF0000"/>
<rect x="88" y="206" width="11" height="3" fill="#FF0000"/>
<rect x="97" y="207" width="17" height="3" fill="#FF0000"/>
<rect x="112" y="208" width="47" height="3" fill="#FF0000"/>
<rect x="157" y="207" width="21" height="3" fill="#FF0000"/>
<rect x="176" y="208" width="23" height="3" fill="#FF0000"/>
<rect x="197" y="209" width="33" height="3" fill="#FF0000"/>
<rect x="228" y="210" width="19" height="3" fill="#FF0000"/>
<rect x="245" y="211" width="14" height="3" fill="#FF0000"/>
<rect x="257" y="212" width="23" height="3" fill="#FF0000"/>
<rect x="278" y="211" width="56" height="3" fill="#FF0000"/>
<rect x="332" y="212" width="83" height="3" fill="#FF0000"/>
<rect x="413" y="211" width="9" height="3" fill="#FF0000"/>
<rect x="420" y="210" width="12" height="3" fill="#FF0000"/>
<rect x="430" y="209" width="13" height="3" fill="#FF0000"/>
<rect x="441" y="208" width="15" height="3" fill="#FF0000"/>
<rect x="454" y="207" width="9" height="3" fill="#FF0000"/>
<rect x="461" y="206" width="14" height="3" fill="#FF0000"/>
<rect x="473" y="205" width="13" height="3" fill="#FF0000"/>
<rect x="484" y="204" width="28" height="3" fill="#FF0000"/>
<rect x="510" y="203" width="11" height="3" fill="#FF0000"/>
<rect x="519" y="202" width="13" height="3" fill="#FF0000"/>
<rect x="530" y="201" width="53" height="3" fill="#FF0000"/>
<rect x="581" y="202" width="22" height="3" fill="#FF0000"/>
<rect x="601" y="203" width="17" height="3" fill="#FF0000"/>
<rect x="616" y="204" width="12" height="3" fill="#FF0000"/>
<rect x="626" y="205" width="9" height="3" fill="#FF0000"/>
<rect x="633" y="206" width="11" height="3" fill="#FF0000"/>
<rect x="642" y="207" width="5" height="3" fill="#FF0000"/>
<rect x="645" y="208" width="7" height="3" fill="#FF0000"/>
<rect x="650" y="209" width="5" height="3" fill="#FF0000"/>
<rect x="653" y="210" width="7" height="3" fill="#FF0000"/>
<rect x="658" y="211" width="6" height="3" fill="#FF0000"/>
<rect x="662" y="212" width="7" height="3" fill="#FF0000"/>
<rect x="667" y="213" width="7" height="3" fill="#FF0000"/>
<rect x="672" y="214" width="7" height="3" fill="#FF0000"/>
<rect x="677" y="215" width="6" height="3" fill="#FF0000"/>
<rect x="681" y="216" width="7" height="3" fill="#FF0000"/>
<rect x="686" y="217" width="7" height="3" fill="#FF0000"/>
<rect x="691" y="218" width="7" height="3" fill="#FF0000"/>
<rect x="696" y="219" width="7" height="3" fill="#FF0000"/>
<rect x="701" y="220" width="7" height="3" fill="#FF0000"/>
<rect x="706" y="221" width="5" height="3" fill="#FF0000"/>
<rect x="709" y="222" width="7" height="3" fill="#FF0000"/>
<rect x="714" y="223" width="5" height="3" fill="#FF0000"/>
<rect x="717" y="224" width="6" height="3" fill="#FF0000"/>
<rect x="721" y="225" width="6" height="3" fill="#FF0000"/>
<rect x="725" y="226" width="6" height="3" fill="#FF0000"/>
<rect x="729" y="227" width="6" height="3" fill="#FF0000"/>
<rect x="733" y="228" width="5" height="3" fill="#FF0000"/>
<rect x="3" y="245" width="5" height="2" fill="#000"/>
<rect x="7" y="244" width="8" height="2" fill="#000"/>
<rect x="14" y="243" width="8" height="2" fill="#000"/>
<rect x="21" y="242" width="8" height="2" fill="#000"/>
<rect x="28" y="241" width="8" height="2" fill="#000"/>
<rect x="35" y="240" width="8" height="2" fill="#000"/>
<rect x="42" y="239" width="7" height="2" fill="#000"/>
<rect x="48" y="238" width="8" height="2" fill="#000"/>
<rect x="55" y="237" width="8" height="2" fill="#000"/>
<rect x="62" y="236" width="8" height="2" fill="#000"/>
<rect x="69" y="235" width="6" height="2" fill="#000"/>
<rect x="74" y="234" width="5" height="2" fill="#000"/>
<rect x="78" y="233" width="5" height="2" fill="#000"/>
<rect x="82" y="232" width="4" height="2" fill="#000"/>
<rect x="85" y="231" width="4" height="2" fill="#000"/>
<rect x="88" y="230" width="4" height="2" fill="#000"/>
<rect x="91" y="229" width="4" height="2" fill="#000"/>
<rect x="94" y="228" width="6" height="2" fill="#000"/>
<rect x="99" y="227" width="5" height="2" fill="#000"/>
<rect x="103" y="226" width="5" height="2" fill="#000"/>
<rect x="107" y="225" width="5" height="2" fill="#000"/>
<rect x="111" y="224" width="5" height="2" fill="#000"/>
<rect x="115" y="223" width="4" height="2" fill="#000"/>
<rect x="118" y="222" width="5" height="2" fill="#000"/>
<rect x="122" y="221" width="4" height="2" fill="#000"/>
<rect x="125" y="220" width="4" height="2" fill="#000"/>
<rect x="128" y="219" width="5" height="2" fill="#000"/>
<rect x="132" y="218" width="4" height="2" fill="#000"/>
<rect x="135" y="217" width="4" height="2" fill="#000"/>
<rect x="138" y="216" width="4" height="2" fill="#000"/>
<rect x="141" y="215" width="3" height="2" fill="#000"/>
<rect x="143" y="214" width="4" height="2" fill="#000"/>
<rect x="146" y="213" width="3" height="2" fill="#000"/>
<rect x="148" y="212" width="4" height="2" fill="#000"/>
<rect x="151" y="211" width="4" height="2" fill="#000"/>
<rect x="154" y="210" width="4" height="2" fill="#000"/>
<rect x="157" y="209" width="3" height="2" fill="#000"/>
<rect x="159" y="208" width="4" height="2" fill="#000"/>
<rect x="162" y="207" width="3" height="2" fill="#000"/>
<rect x="164" y="206" width="4" height="2" fill="#000"/>
<rect x="167" y="205" width="3" height="2" fill="#000"/>
<rect x="169" y="204" width="4" height="2" fill="#000"/>
<rect x="172" y="203" width="3" height="2" fill="#000"/>
<rect x="174" y="202" width="4" height="2" fill="#000"/>
<rect x="177" y="201" width="3" height="2" fill="#000"/>
<rect x="179" y="200" width="5" height="2" fill="#000"/>
<rect x="183" y="199" width="5" height="2" fill="#000"/>
<rect x="187" y="198" width="6" height="2" fill="#000"/>
<rect x="192" y="197" width="6" height="2" fill="#000"/>
<rect x="197" y="196" width="5" height="2" fill="#000"/>
<rect x="201" y="195" width="5" height="2" fill="#000"/>
<rect x="205" y="194" width="4" height="2" fill="#000"/>
<rect x="208" y="193" width="5" height="2" fill="#000"/>
<rect x="212" y="192" width="4" height="2" fill="#000"/>
<rect x="215" y="191" width="5" height="2" fill="#000"/>
<rect x="219" y="190" width="4" height="2" fill="#000"/>
<rect x="222" y="189" width="5" height="2" fill="#000"/>
<rect x="226" y="188" width="4" height="2" fill="#000"/>
<rect x="229" y="187" width="4" height="2" fill="#000"/>
<rect x="232" y="186" width="4" height="2" fill="#000"/>
<rect x="235" y="185" width="3" height="2" fill="#000"/>
<rect x="237" y="184" width="3" height="2" fill="#000"/>
<rect x="239" y="183" width="5" height="2" fill="#000"/>
<rect x="243" y="182" width="6" height="2" fill="#000"/>
<rect x="248" y="181" width="6" height="2" fill="#000"/>
<rect x="253" y="180" width="6" height="2" fill="#000"/>
<rect x="258" y="179" width="7" height="2" fill="#000"/>
<rect x="264" y="178" width="8" height="2" fill="#000"/>
<rect x="271" y="177" width="7" height="2" fill="#000"/>
<rect x="277" y="176" width="12" height="2" fill="#000"/>
<rect x="288" y="175" width="14" height="2" fill="#000"/>
<rect x="301" y="174" width="56" height="2" fill="#000"/>
<rect x="356" y="175" width="11" height="2" fill="#000"/>
<rect x="366" y="176" width="14" height="2" fill="#000"/>
<rect x="379" y="177" width="15" height="2" fill="#000"/>
<rect x="393" y="178" width="16" height="2" fill="#000"/>
<rect x="408" y="179" width="39" height="2" fill="#000"/>
<rect x="446" y="178" width="12" height="2" fill="#000"/>
<rect x="457" y="177" width="18" height="2" fill="#000"/>
<rect x="474" y="178" width="8" height="2" fill="#000"/>
<rect x="481" y="179" width="8" height="2" fill="#000"/>
<rect x="488" y="180" width="8" height="2" fill="#000"/>
<rect x="495" y="181" width="7" height="2" fill="#000"/>
<rect x="501" y="182" width="7" height="2" fill="#000"/>
<rect x="507" y="183" width="7" height="2" fill="#000"/>
<rect x="513" y="184" width="12" height="2" fill="#000"/>
<rect x="524" y="185" width="15" height="2" fill="#000"/>
<rect x="538" y="186" width="5" height="2" fill="#000"/>
<rect x="542" y="187" width="3" height="2" fill="#000"/>
<rect x="544" y="188" width="3" height="2" fill="#000"/>
<rect x="546" y="189" width="3" height="2" fill="#000"/>
<rect x="548" y="190" width="4" height="2" fill="#000"/>
<rect x="551" y="191" width="3" height="2" fill="#000"/>
<rect x="553" y="192" width="3" height="2" fill="#000"/>
<rect x="555" y="193" width="3" height="2" fill="#000"/>
<rect x="557" y="194" width="4" height="2" fill="#000"/>
<rect x="560" y="195" width="3" height="2" fill="#000"/>
<rect x="562" y="196" width="4" height="2" fill="#000"/>
<rect x="565" y="197" width="4" height="2" fill="#000"/>
<rect x="568" y="198" width="4" height="2" fill="#000"/>
<rect x="571" y="199" width="3" height="2" fill="#000"/>
<rect x="573" y="200" width="4" height="2" fill="#000"/>
<rect x="576" y="201" width="3" height="2" fill="#000"/>
<rect x="578" y="202" width="4" height="2" fill="#000"/>
<rect x="581" y="203" width="2" height="2" fill="#000"/>
<rect x="582" y="204" width="4" height="2" fill="#000"/>
<rect x="585" y="205" width="2" height="2" fill="#000"/>
<rect x="586" y="206" width="4" height="2" fill="#000"/>
<rect x="589" y="207" width="2" height="2" fill="#000"/>
<rect x="590" y="208" width="4" height="2" fill="#000"/>
<rect x="593" y="209" width="3" height="2" fill="#000"/>
<rect x="595" y="210" width="4" height="2" fill="#000"/>
<rect x="598" y="211" width="3" height="2" fill="#000"/>
<rect x="600" y="212" width="4" height="2" fill="#000"/>
<rect x="603" y="213" width="3" height="2" fill="#000"/>
<rect x="605" y="214" width="3" height="2" fill="#000"/>
<rect x="607" y="215" width="3" height="2" fill="#000"/>
<rect x="609" y="216" width="4" height="2" fill="#000"/>
<rect x="612" y="217" width="3" height="2" fill="#000"/>
<rect x="614" y="218" width="3" height="2" fill="#000"/>
<rect x="616" y="219" width="3" height="2" fill="#000"/>
<rect x="618" y="220" width="4" height="2" fill="#000"/>
<rect x="621" y="221" width="3" height="2" fill="#000"/>
<rect x="623" y="222" width="3" height="2" fill="#000"/>
<rect x="625" y="223" width="3" height="2" fill="#000"/>
<rect x="627" y="224" width="3" height="2" fill="#000"/>
<rect x="629" y="225" width="3" height="2" fill="#000"/>
<rect x="631" y="226" width="4" height="2" fill="#000"/>
<rect x="634" y="227" width="2" height="2" fill="#000"/>
<rect x="635" y="228" width="4" height="2" fill="#000"/>
<rect x="638" y="229" width="2" height="2" fill="#000"/>
<rect x="639" y="230" width="3" height="2" fill="#000"/>
<rect x="641" y="231" width="2" height="2" fill="#000"/>
<rect x="642" y="232" width="3" height="2" fill="#000"/>
<rect x="644" y="233" width="2" height="2" fill="#000"/>
<rect x="645" y="234" width="2" height="2" fill="#000"/>
<rect x="646" y="235" width="3" height="2" fill="#000"/>
<rect x="648" y="236" width="2" height="2" fill="#000"/>
<rect x="649" y="237" width="3" height="2" fill="#000"/>
<rect x="651" y="238" width="3" height="2" fill="#000"/>
<rect x="653" y="239" width="2" height="2" fill="#000"/>
<rect x="654" y="240" width="3" height="2" fill="#000"/>
<rect x="656" y="241" width="2" height="2" fill="#000"/>
<rect x="657" y="242" width="3" height="2" fill="#000"/>
<rect x="659" y="243" width="2" height="2" fill="#000"/>
<rect x="660" y="244" width="3" height="2" fill="#000"/>
<rect x="662" y="245" width="3" height="2" fill="#000"/>
<rect x="664" y="246" width="3" height="2" fill="#000"/>
<rect x="666" y="247" width="2" height="2" fill="#000"/>
<rect x="667" y="248" width="3" height="2" fill="#000"/>
<rect x="669" y="249" width="2" height="2" fill="#000"/>
<rect x="670" y="250" width="3" height="2" fill="#000"/>
<rect x="672" y="251" width="3" height="2" fill="#000"/>
<rect x="674" y="252" width="3" height="2" fill="#000"/>
<rect x="676" y="253" width="3" height="2" fill="#000"/>
<rect x="678" y="254" width="3" height="2" fill="#000"/>
<rect x="680" y="255" width="3" height="2" fill="#000"/>
<rect x="682" y="256" width="3" height="2" fill="#000"/>
<rect x="684" y="257" width="3" height="2" fill="#000"/>
<rect x="686" y="258" width="3" height="2" fill="#000"/>
<rect x="688" y="259" width="3" height="2" fill="#000"/>
<rect x="690" y="260" width="4" height="2" fill="#000"/>
<rect x="693" y="261" width="2" height="2" fill="#000"/>
<rect x="694" y="262" width="4" height="2" fill="#000"/>
<rect x="697" y="263" width="2" height="2" fill="#000"/>
<rect x="698" y="264" width="4" height="2" fill="#000"/>
<rect x="701" y="265" width="2" height="2" fill="#000"/>
<rect x="702" y="266" width="4" height="2" fill="#000"/>
<rect x="705" y="267" width="2" height="2" fill="#000"/>
<rect x="706" y="268" width="4" height="2" fill="#000"/>
<rect x="709" y="269" width="2" height="2" fill="#000"/>
<rect x="710" y="270" width="4" height="2" fill="#000"/>
<rect x="713" y="271" width="3" height="2" fill="#000"/>
<rect x="715" y="272" width="3" height="2" fill="#000"/>
<rect x="717" y="273" width="3" height="2" fill="#000"/>
<rect x="719" y="274" width="3" height="2" fill="#000"/>
<rect x="721" y="275" width="3" height="2" fill="#000"/>
<rect x="723" y="276" width="3" height="2" fill="#000"/>
<rect x="725" y="277" width="3" height="2" fill="#000"/>
<rect x="727" y="278" width="3" height="2" fill="#000"/>
<rect x="729" y="279" width="3" height="2" fill="#000"/>
<rect x="731" y="280" width="3" height="2" fill="#000"/>
<rect x="733" y="281" width="3" height="2" fill="#000"/>
<rect x="735" y="282" width="3" height="2" fill="#000"/>
<rect x="3" y="19" width="757" height="1" fill="#FF0000"/>
<rect x="3" y="54" width="757" height="1" fill="#FF0000"/>
<rect x="3" y="108" width="757" height="1" fill="#FF0000"/>
<rect x="3" y="127" width="757" height="1" fill="#FF0000"/>
<rect x="3" y="178" width="757" height="1" fill="#FF0000"/>
<rect x="3" y="225" width="757" height="1" fill="#FF0000"/>
<rect x="3" y="290" width="757" height="1" fill="#FF0000"/>
<rect x="3" y="359" width="757" height="1" fill="#FF0000"/>
<rect x="3" y="436" width="757" height="1" fill="#FF0000"/>
<rect x="3" y="447" width="757" height="1" fill="#FF0000"/>
<rect x="3" y="176" width="1" height="16" fill="#1E90FF"/>
<rect x="2" y="177" width="3" height="10" fill="#1E90FF"/>
<rect x="7" y="176" width="1" height="14" fill="#FF0000"/>
<rect x="6" y="178" width="3" height="9" fill="#FF0000"/>
<rect x="11" y="181" width="1" height="7" fill="#1E90FF"/>
<rect x="10" y="184" width="3" height="4" fill="#1E90FF"/>
<rect x="15" y="182" width="1" height="13" fill="#FF0000"/>
<rect x="14" y="183" width="3" height="3" fill="#FF0000"/>
<rect x="19" y="181" width="1" height="16" fill="#FF0000"/>
<rect x="18" y="184" width="3" height="6" fill="#FF0000"/>
<rect x="23" y="188" width="1" height="23" fill="#FF0000"/>
<rect x="22" y="188" width="3" height="19" fill="#FF0000"/>
<rect x="27" y="191" width="1" height="18" fill="#1E90FF"/>
<rect x="26" y="203" width="3" height="5" fill="#1E90FF"/>
<rect x="31" y="190" width="1" height="16" fill="#FF0000"/>
<rect x="30" y="203" width="3" height="1" fill="#FF0000"/>
<rect x="35" y="189" width="1" height="15" fill="#1E90FF"/>
<rect x="34" y="194" width="3" height="10" fill="#1E90FF"/>
<rect x="39" y="192" width="1" height="14" fill="#FF0000"/>
<rect x="38" y="195" width="3" height="10" fill="#FF0000"/>
<rect x="43" y="203" width="1" height="24" fill="#FF0000"/>
<rect x="42" y="203" width="3" height="23" fill="#FF0000"/>
<rect x="47" y="211" width="1" height="23" fill="#1E90FF"/>
<rect x="46" y="221" width="3" height="6" fill="#1E90FF"/>
<rect x="51" y="215" width="1" height="36" fill="#FF0000"/>
<rect x="50" y="222" width="3" height="26" fill="#FF0000"/>
<rect x="55" y="233" width="1" height="23" fill="#FF0000"/>
<rect x="54" y="247" width="3" height="8" fill="#FF0000"/>
<rect x="59" y="245" width="1" height="14" fill="#1E90FF"/>
<rect x="58" y="245" width="3" height="9" fill="#1E90FF"/>
<rect x="63" y="217" width="1" height="31" fill="#1E90FF"/>
<rect x="62" y="220" width="3" height="27" fill="#1E90FF"/>
<rect x="67" y="207" width="1" height="18" fill="#1E90FF"/>
<rect x="66" y="215" width="3" height="7" fill="#1E90FF"/>
<rect x="71" y="201" width="1" height="20" fill="#1E90FF"/>
<rect x="70" y="202" width="3" height="13" fill="#1E90FF"/>
<rect x="75" y="202" width="1" height="17" fill="#FF0000"/>
<rect x="74" y="203" width="3" height="12" fill="#FF0000"/>
<rect x="79" y="203" width="1" height="19" fill="#FF0000"/>
<rect x="78" y="216" width="3" height="6" fill="#FF0000"/>
<rect x="83" y="215" width="1" height="7" fill="#1E90FF"/>
<rect x="82" y="218" width="3" height="3" fill="#1E90FF"/>
<rect x="87" y="206" width="1" height="12" fill="#1E90FF"/>
<rect x="86" y="209" width="3" height="9" fill="#1E90FF"/>
<rect x="91" y="203" width="1" height="12" fill="#1E90FF"/>
<rect x="90" y="207" width="3" height="4" fill="#1E90FF"/>
<rect x="95" y="189" width="1" height="21" fill="#1E90FF"/>
<rect x="94" y="192" width="3" height="18" fill="#1E90FF"/>
<rect x="99" y="182" width="1" height="16" fill="#FF0000"/>
<rect x="98" y="191" width="3" height="6" fill="#FF0000"/>
<rect x="103" y="190" width="1" height="9" fill="#1E90FF"/>
<rect x="102" y="191" width="3" height="5" fill="#1E90FF"/>
<rect x="107" y="184" width="1" height="8" fill="#1E90FF"/>
<rect x="106" y="187" width="3" height="4" fill="#1E90FF"/>
<rect x="111" y="184" width="1" height="13" fill="#FF0000"/>
<rect x="110" y="186" width="3" height="7" fill="#FF0000"/>
<rect x="115" y="173" width="1" height="20" fill="#1E90FF"/>
<rect x="114" y="177" width="3" height="16" fill="#1E90FF"/>
<rect x="119" y="162" width="1" height="22" fill="#1E90FF"/>
<rect x="118" y="168" width="3" height="9" fill="#1E90FF"/>
<rect x="123" y="154" width="1" height="23" fill="#1E90FF"/>
<rect x="122" y="163" width="3" height="5" fill="#1E90FF"/>
<rect x="127" y="160" width="1" height="4" fill="#FF0000"/>
<rect x="126" y="162" width="3" height="2" fill="#FF0000"/>
<rect x="131" y="151" width="1" height="20" fill="#1E90FF"/>
<rect x="130" y="160" width="3" height="10" fill="#1E90FF"/>
<rect x="135" y="152" width="1" height="11" fill="#1E90FF"/>
<rect x="134" y="159" width="3" height="3" fill="#1E90FF"/>
<rect x="139" y="147" width="1" height="19" fill="#1E90FF"/>
<rect x="138" y="153" width="3" height="6" fill="#1E90FF"/>
<rect x="143" y="148" width="1" height="10" fill="#1E90FF"/>
<rect x="142" y="151" width="3" height="2" fill="#1E90FF"/>
<rect x="147" y="147" width="1" height="7" fill="#1E90FF"/>
<rect x="146" y="150" width="3" height="3" fill="#1E90FF"/>
<rect x="151" y="143" width="1" height="8" fill="#1E90FF"/>
<rect x="150" y="144" width="3" height="6" fill="#1E90FF"/>
<rect x="155" y="143" width="1" height="5" fill="#FF0000"/>
<rect x="154" y="145" width="3" height="3" fill="#FF0000"/>
<rect x="159" y="146" width="1" height="8" fill="#1E90FF"/>
<rect x="158" y="146" width="3" height="1" fill="#1E90FF"/>
<rect x="163" y="146" width="1" height="11" fill="#FF0000"/>
<rect x="162" y="147" width="3" height="6" fill="#FF0000"/>
<rect x="167" y="151" width="1" height="19" fill="#FF0000"/>
<rect x="166" y="151" width="3" height="8" fill="#FF0000"/>
<rect x="171" y="144" width="1" height="18" fill="#1E90FF"/>
<rect x="170" y="151" width="3" height="7" fill="#1E90FF"/>
<rect x="175" y="140" width="1" height="14" fill="#1E90FF"/>
<rect x="174" y="142" width="3" height="9" fill="#1E90FF"/>
<rect x="179" y="131" width="1" height="17" fill="#1E90FF"/>
<rect x="178" y="137" width="3" height="7" fill="#1E90FF"/>
<rect x="183" y="128" width="1" height="12" fill="#1E90FF"/>
<rect x="182" y="133" width="3" height="3" fill="#1E90FF"/>
<rect x="187" y="128" width="1" height="24" fill="#FF0000"/>
<rect x="186" y="132" width="3" height="17" fill="#FF0000"/>
<rect x="191" y="142" width="1" height="22" fill="#1E90FF"/>
<rect x="190" y="147" width="3" height="3" fill="#1E90FF"/>
<rect x="195" y="135" width="1" height="16" fill="#1E90FF"/>
<rect x="194" y="140" width="3" height="7" fill="#1E90FF"/>
<rect x="199" y="139" width="1" height="27" fill="#FF0000"/>
<rect x="198" y="139" width="3" height="11" fill="#FF0000"/>
<rect x="203" y="132" width="1" height="23" fill="#1E90FF"/>
<rect x="202" y="140" width="3" height="9" fill="#1E90FF"/>
<rect x="207" y="137" width="1" height="12" fill="#FF0000"/>
<rect x="206" y="139" width="3" height="9" fill="#FF0000"/>
<rect x="211" y="141" width="1" height="13" fill="#FF0000"/>
<rect x="210" y="146" width="3" height="8" fill="#FF0000"/>
<rect x="215" y="142" width="1" height="12" fill="#1E90FF"/>
<rect x="214" y="147" width="3" height="6" fill="#1E90FF"/>
<rect x="219" y="144" width="1" height="8" fill="#FF0000"/>
<rect x="218" y="145" width="3" height="4" fill="#FF0000"/>
<rect x="223" y="146" width="1" height="11" fill="#FF0000"/>
<rect x="222" y="147" width="3" height="10" fill="#FF0000"/>
<rect x="227" y="146" width="1" height="12" fill="#1E90FF"/>
<rect x="226" y="147" width="3" height="8" fill="#1E90FF"/>
<rect x="231" y="146" width="1" height="7" fill="#FF0000"/>
<rect x="230" y="146" width="3" height="2" fill="#FF0000"/>
<rect x="235" y="139" width="1" height="10" fill="#1E90FF"/>
<rect x="234" y="141" width="3" height="8" fill="#1E90FF"/>
<rect x="239" y="139" width="1" height="6" fill="#1E90FF"/>
<rect x="238" y="141" width="3" height="2" fill="#1E90FF"/>
<rect x="243" y="139" width="1" height="9" fill="#FF0000"/>
<rect x="242" y="142" width="3" height="4" fill="#FF0000"/>
<rect x="247" y="140" width="1" height="8" fill="#1E90FF"/>
<rect x="246" y="141" width="3" height="4" fill="#1E90FF"/>
<rect x="251" y="139" width="1" height="11" fill="#FF0000"/>
<rect x="250" y="142" width="3" height="8" fill="#FF0000"/>
<rect x="255" y="146" width="1" height="7" fill="#1E90FF"/>
<rect x="254" y="148" width="3" height="2" fill="#1E90FF"/>
<rect x="259" y="142" width="1" height="17" fill="#FF0000"/>
<rect x="258" y="147" width="3" height="11" fill="#FF0000"/>
<rect x="263" y="144" width="1" height="20" fill="#1E90FF"/>
<rect x="262" y="146" width="3" height="13" fill="#1E90FF"/>
<rect x="267" y="131" width="1" height="20" fill="#1E90FF"/>
<rect x="266" y="133" width="3" height="15" fill="#1E90FF"/>
<rect x="271" y="129" width="1" height="20" fill="#FF0000"/>
<rect x="270" y="134" width="3" height="9" fill="#FF0000"/>
<rect x="275" y="141" width="1" height="17" fill="#FF0000"/>
<rect x="274" y="144" width="3" height="13" fill="#FF0000"/>
<rect x="279" y="146" width="1" height="14" fill="#1E90FF"/>
<rect x="278" y="152" width="3" height="6" fill="#1E90FF"/>
<rect x="283" y="148" width="1" height="12" fill="#1E90FF"/>
<rect x="282" y="149" width="3" height="4" fill="#1E90FF"/>
<rect x="287" y="149" width="1" height="69" fill="#FF0000"/>
<rect x="286" y="150" width="3" height="53" fill="#FF0000"/>
<rect x="291" y="190" width="1" height="15" fill="#1E90FF"/>
<rect x="290" y="194" width="3" height="8" fill="#1E90FF"/>
<rect x="295" y="181" width="1" height="41" fill="#FF0000"/>
<rect x="294" y="195" width="3" height="27" fill="#FF0000"/>
<rect x="299" y="204" width="1" height="24" fill="#1E90FF"/>
<rect x="298" y="209" width="3" height="12" fill="#1E90FF"/>
<rect x="303" y="191" width="1" height="22" fill="#1E90FF"/>
<rect x="302" y="192" width="3" height="19" fill="#1E90FF"/>
<rect x="307" y="190" width="1" height="15" fill="#1E90FF"/>
<rect x="306" y="192" width="3" height="3" fill="#1E90FF"/>
<rect x="311" y="182" width="1" height="15" fill="#1E90FF"/>
<rect x="310" y="184" width="3" height="11" fill="#1E90FF"/>
<rect x="315" y="184" width="1" height="9" fill="#FF0000"/>
<rect x="314" y="185" width="3" height="6" fill="#FF0000"/>
<rect x="319" y="187" width="1" height="21" fill="#FF0000"/>
<rect x="318" y="191" width="3" height="15" fill="#FF0000"/>
<rect x="323" y="194" width="1" height="12" fill="#1E90FF"/>
<rect x="322" y="202" width="3" height="1" fill="#1E90FF"/>
<rect x="327" y="198" width="1" height="6" fill="#1E90FF"/>
<rect x="326" y="199" width="3" height="3" fill="#1E90FF"/>
<rect x="331" y="191" width="1" height="12" fill="#1E90FF"/>
<rect x="330" y="197" width="3" height="2" fill="#1E90FF"/>
<rect x="335" y="194" width="1" height="13" fill="#FF0000"/>
<rect x="334" y="196" width="3" height="9" fill="#FF0000"/>
<rect x="339" y="197" width="1" height="9" fill="#1E90FF"/>
<rect x="338" y="199" width="3" height="5" fill="#1E90FF"/>
<rect x="343" y="192" width="1" height="9" fill="#1E90FF"/>
<rect x="342" y="194" width="3" height="5" fill="#1E90FF"/>
<rect x="347" y="189" width="1" height="6" fill="#FF0000"/>
<rect x="346" y="192" width="3" height="3" fill="#FF0000"/>
<rect x="351" y="188" width="1" height="9" fill="#FF0000"/>
<rect x="350" y="192" width="3" height="4" fill="#FF0000"/>
<rect x="355" y="189" width="1" height="10" fill="#FF0000"/>
<rect x="354" y="194" width="3" height="4" fill="#FF0000"/>
<rect x="359" y="184" width="1" height="15" fill="#1E90FF"/>
<rect x="358" y="189" width="3" height="8" fill="#1E90FF"/>
<rect x="363" y="180" width="1" height="12" fill="#1E90FF"/>
<rect x="362" y="187" width="3" height="4" fill="#1E90FF"/>
<rect x="367" y="180" width="1" height="17" fill="#FF0000"/>
<rect x="366" y="189" width="3" height="4" fill="#FF0000"/>
<rect x="371" y="191" width="1" height="15" fill="#FF0000"/>
<rect x="370" y="193" width="3" height="11" fill="#FF0000"/>
<rect x="375" y="197" width="1" height="14" fill="#1E90FF"/>
<rect x="374" y="202" width="3" height="1" fill="#1E90FF"/>
<rect x="379" y="189" width="1" height="16" fill="#1E90FF"/>
<rect x="378" y="199" width="3" height="6" fill="#1E90FF"/>
<rect x="383" y="188" width="1" height="31" fill="#1E90FF"/>
<rect x="382" y="189" width="3" height="10" fill="#1E90FF"/>
<rect x="387" y="181" width="1" height="29" fill="#FF0000"/>
<rect x="386" y="189" width="3" height="18" fill="#FF0000"/>
<rect x="391" y="195" width="1" height="27" fill="#FF0000"/>
<rect x="390" y="205" width="3" height="8" fill="#FF0000"/>
<rect x="395" y="201" width="1" height="22" fill="#FF0000"/>
<rect x="394" y="212" width="3" height="2" fill="#FF0000"/>
<rect x="399" y="210" width="1" height="16" fill="#FF0000"/>
<rect x="398" y="212" width="3" height="5" fill="#FF0000"/>
<rect x="403" y="209" width="1" height="15" fill="#1E90FF"/>
<rect x="402" y="212" width="3" height="4" fill="#1E90FF"/>
<rect x="407" y="200" width="1" height="19" fill="#1E90FF"/>
<rect x="406" y="200" width="3" height="13" fill="#1E90FF"/>
<rect x="411" y="186" width="1" height="20" fill="#1E90FF"/>
<rect x="410" y="194" width="3" height="8" fill="#1E90FF"/>
<rect x="415" y="190" width="1" height="6" fill="#1E90FF"/>
<rect x="414" y="192" width="3" height="1" fill="#1E90FF"/>
<rect x="419" y="190" width="1" height="13" fill="#FF0000"/>
<rect x="418" y="191" width="3" height="9" fill="#FF0000"/>
<rect x="423" y="189" width="1" height="11" fill="#1E90FF"/>
<rect x="422" y="189" width="3" height="10" fill="#1E90FF"/>
<rect x="427" y="187" width="1" height="5" fill="#1E90FF"/>
<rect x="426" y="187" width="3" height="4" fill="#1E90FF"/>
<rect x="431" y="187" width="1" height="17" fill="#FF0000"/>
<rect x="430" y="188" width="3" height="14" fill="#FF0000"/>
<rect x="435" y="199" width="1" height="8" fill="#FF0000"/>
<rect x="434" y="199" width="3" height="3" fill="#FF0000"/>
<rect x="439" y="192" width="1" height="11" fill="#1E90FF"/>
<rect x="438" y="194" width="3" height="9" fill="#1E90FF"/>
<rect x="443" y="190" width="1" height="7" fill="#1E90FF"/>
<rect x="442" y="191" width="3" height="5" fill="#1E90FF"/>
<rect x="447" y="189" width="1" height="11" fill="#FF0000"/>
<rect x="446" y="190" width="3" height="10" fill="#FF0000"/>
<rect x="451" y="192" width="1" height="8" fill="#1E90FF"/>
<rect x="450" y="192" width="3" height="6" fill="#1E90FF"/>
<rect x="455" y="191" width="1" height="12" fill="#FF0000"/>
<rect x="454" y="191" width="3" height="8" fill="#FF0000"/>
<rect x="459" y="190" width="1" height="21" fill="#FF0000"/>
<rect x="458" y="197" width="3" height="6" fill="#FF0000"/>
<rect x="463" y="192" width="1" height="13" fill="#1E90FF"/>
<rect x="462" y="202" width="3" height="2" fill="#1E90FF"/>
<rect x="467" y="200" width="1" height="27" fill="#FF0000"/>
<rect x="466" y="201" width="3" height="15" fill="#FF0000"/>
<rect x="471" y="207" width="1" height="34" fill="#FF0000"/>
<rect x="470" y="217" width="3" height="19" fill="#FF0000"/>
<rect x="475" y="228" width="1" height="18" fill="#FF0000"/>
<rect x="474" y="236" width="3" height="9" fill="#FF0000"/>
<rect x="479" y="244" width="1" height="3" fill="#1E90FF"/>
<rect x="478" y="244" width="3" height="2" fill="#1E90FF"/>
<rect x="483" y="253" width="1" height="10" fill="#FF0000"/>
<rect x="482" y="256" width="3" height="7" fill="#FF0000"/>
<rect x="487" y="261" width="1" height="23" fill="#FF0000"/>
<rect x="486" y="261" width="3" height="17" fill="#FF0000"/>
<rect x="491" y="271" width="1" height="16" fill="#FF0000"/>
<rect x="490" y="276" width="3" height="8" fill="#FF0000"/>
<rect x="495" y="266" width="1" height="38" fill="#1E90FF"/>
<rect x="494" y="269" width="3" height="16" fill="#1E90FF"/>
<rect x="499" y="252" width="1" height="21" fill="#1E90FF"/>
<rect x="498" y="256" width="3" height="12" fill="#1E90FF"/>
<rect x="503" y="255" width="1" height="7" fill="#FF0000"/>
<rect x="502" y="255" width="3" height="3" fill="#FF0000"/>
<rect x="507" y="242" width="1" height="17" fill="#1E90FF"/>
<rect x="506" y="248" width="3" height="9" fill="#1E90FF"/>
<rect x="511" y="221" width="1" height="34" fill="#1E90FF"/>
<rect x="510" y="229" width="3" height="22" fill="#1E90FF"/>
<rect x="515" y="223" width="1" height="20" fill="#FF0000"/>
<rect x="514" y="231" width="3" height="8" fill="#FF0000"/>
<rect x="519" y="205" width="1" height="41" fill="#1E90FF"/>
<rect x="518" y="213" width="3" height="25" fill="#1E90FF"/>
<rect x="523" y="177" width="1" height="40" fill="#1E90FF"/>
<rect x="522" y="201" width="3" height="14" fill="#1E90FF"/>
<rect x="527" y="194" width="1" height="20" fill="#1E90FF"/>
<rect x="526" y="195" width="3" height="6" fill="#1E90FF"/>
<rect x="531" y="187" width="1" height="35" fill="#FF0000"/>
<rect x="530" y="197" width="3" height="24" fill="#FF0000"/>
<rect x="535" y="208" width="1" height="21" fill="#1E90FF"/>
<rect x="534" y="208" width="3" height="12" fill="#1E90FF"/>
<rect x="539" y="200" width="1" height="32" fill="#FF0000"/>
<rect x="538" y="207" width="3" height="13" fill="#FF0000"/>
<rect x="543" y="221" width="1" height="63" fill="#FF0000"/>
<rect x="542" y="222" width="3" height="53" fill="#FF0000"/>
<rect x="547" y="265" width="1" height="32" fill="#FF0000"/>
<rect x="546" y="273" width="3" height="21" fill="#FF0000"/>
<rect x="551" y="281" width="1" height="51" fill="#FF0000"/>
<rect x="550" y="294" width="3" height="37" fill="#FF0000"/>
<rect x="555" y="319" width="1" height="34" fill="#1E90FF"/>
<rect x="554" y="329" width="3" height="3" fill="#1E90FF"/>
<rect x="559" y="308" width="1" height="25" fill="#1E90FF"/>
<rect x="558" y="313" width="3" height="18" fill="#1E90FF"/>
<rect x="563" y="305" width="1" height="14" fill="#1E90FF"/>
<rect x="562" y="309" width="3" height="4" fill="#1E90FF"/>
<rect x="567" y="302" width="1" height="14" fill="#1E90FF"/>
<rect x="566" y="302" width="3" height="7" fill="#1E90FF"/>
<rect x="571" y="293" width="1" height="12" fill="#1E90FF"/>
<rect x="570" y="301" width="3" height="3" fill="#1E90FF"/>
<rect x="575" y="293" width="1" height="9" fill="#1E90FF"/>
<rect x="574" y="299" width="3" height="2" fill="#1E90FF"/>
<rect x="579" y="297" width="1" height="7" fill="#FF0000"/>
<rect x="578" y="300" width="3" height="2" fill="#FF0000"/>
<rect x="583" y="300" width="1" height="8" fill="#FF0000"/>
<rect x="582" y="302" width="3" height="6" fill="#FF0000"/>
<rect x="587" y="295" width="1" height="19" fill="#1E90FF"/>
<rect x="586" y="298" width="3" height="11" fill="#1E90FF"/>
<rect x="591" y="291" width="1" height="19" fill="#FF0000"/>
<rect x="590" y="299" width="3" height="7" fill="#FF0000"/>
<rect x="595" y="301" width="1" height="16" fill="#FF0000"/>
<rect x="594" y="304" width="3" height="11" fill="#FF0000"/>
<rect x="599" y="310" width="1" height="8" fill="#1E90FF"/>
<rect x="598" y="312" width="3" height="2" fill="#1E90FF"/>
<rect x="603" y="304" width="1" height="9" fill="#1E90FF"/>
<rect x="602" y="308" width="3" height="4" fill="#1E90FF"/>
<rect x="607" y="295" width="1" height="16" fill="#1E90FF"/>
<rect x="606" y="299" width="3" height="11" fill="#1E90FF"/>
<rect x="611" y="293" width="1" height="13" fill="#FF0000"/>
<rect x="610" y="298" width="3" height="5" fill="#FF0000"/>
<rect x="615" y="301" width="1" height="28" fill="#FF0000"/>
<rect x="614" y="303" width="3" height="20" fill="#FF0000"/>
<rect x="619" y="312" width="1" height="37" fill="#FF0000"/>
<rect x="618" y="323" width="3" height="20" fill="#FF0000"/>
<rect x="623" y="333" width="1" height="28" fill="#FF0000"/>
<rect x="622" y="341" width="3" height="19" fill="#FF0000"/>
<rect x="627" y="348" width="1" height="22" fill="#FF0000"/>
<rect x="626" y="360" width="3" height="7" fill="#FF0000"/>
<rect x="631" y="365" width="1" height="19" fill="#FF0000"/>
<rect x="630" y="367" width="3" height="12" fill="#FF0000"/>
<rect x="635" y="369" width="1" height="17" fill="#FF0000"/>
<rect x="634" y="377" width="3" height="7" fill="#FF0000"/>
<rect x="639" y="376" width="1" height="21" fill="#FF0000"/>
<rect x="638" y="384" width="3" height="10" fill="#FF0000"/>
<rect x="643" y="377" width="1" height="21" fill="#FF0000"/>
<rect x="642" y="394" width="3" height="3" fill="#FF0000"/>
<rect x="647" y="392" width="1" height="35" fill="#FF0000"/>
<rect x="646" y="398" width="3" height="17" fill="#FF0000"/>
<rect x="651" y="390" width="1" height="27" fill="#1E90FF"/>
<rect x="650" y="393" width="3" height="23" fill="#1E90FF"/>
<rect x="655" y="386" width="1" height="18" fill="#1E90FF"/>
<rect x="654" y="389" width="3" height="4" fill="#1E90FF"/>
<rect x="659" y="388" width="1" height="16" fill="#FF0000"/>
<rect x="658" y="390" width="3" height="13" fill="#FF0000"/>
<rect x="663" y="388" width="1" height="16" fill="#1E90FF"/>
<rect x="662" y="392" width="3" height="12" fill="#1E90FF"/>
<rect x="667" y="381" width="1" height="13" fill="#1E90FF"/>
<rect x="666" y="384" width="3" height="8" fill="#1E90FF"/>
<rect x="671" y="378" width="1" height="12" fill="#FF0000"/>
<rect x="670" y="385" width="3" height="3" fill="#FF0000"/>
<rect x="675" y="378" width="1" height="13" fill="#1E90FF"/>
<rect x="674" y="381" width="3" height="8" fill="#1E90FF"/>
<rect x="679" y="375" width="1" height="12" fill="#FF0000"/>
<rect x="678" y="380" width="3" height="5" fill="#FF0000"/>
<rect x="683" y="383" width="1" height="12" fill="#FF0000"/>
<rect x="682" y="383" width="3" height="9" fill="#FF0000"/>
<rect x="687" y="359" width="1" height="38" fill="#1E90FF"/>
<rect x="686" y="373" width="3" height="18" fill="#1E90FF"/>
<rect x="691" y="362" width="1" height="13" fill="#1E90FF"/>
<rect x="690" y="370" width="3" height="3" fill="#1E90FF"/>
<rect x="695" y="369" width="1" height="22" fill="#FF0000"/>
<rect x="694" y="369" width="3" height="21" fill="#FF0000"/>
<rect x="699" y="379" width="1" height="12" fill="#1E90FF"/>
<rect x="698" y="386" width="3" height="5" fill="#1E90FF"/>
<rect x="703" y="384" width="1" height="11" fill="#FF0000"/>
<rect x="702" y="385" width="3" height="6" fill="#FF0000"/>
<rect x="707" y="379" width="1" height="14" fill="#1E90FF"/>
<rect x="706" y="390" width="3" height="3" fill="#1E90FF"/>
<rect x="711" y="386" width="1" height="32" fill="#FF0000"/>
<rect x="710" y="389" width="3" height="18" fill="#FF0000"/>
<rect x="715" y="392" width="1" height="21" fill="#1E90FF"/>
<rect x="714" y="399" width="3" height="9" fill="#1E90FF"/>
<rect x="719" y="398" width="1" height="19" fill="#1E90FF"/>
<rect x="718" y="400" width="3" height="1" fill="#1E90FF"/>
<rect x="723" y="397" width="1" height="15" fill="#1E90FF"/>
<rect x="722" y="399" width="3" height="4" fill="#1E90FF"/>
<rect x="727" y="383" width="1" height="21" fill="#1E90FF"/>
<rect x="726" y="386" width="3" height="15" fill="#1E90FF"/>
<rect x="731" y="374" width="1" height="22" fill="#FF0000"/>
<rect x="730" y="385" width="3" height="8" fill="#FF0000"/>
<rect x="735" y="383" width="1" height="40" fill="#FF0000"/>
<rect x="734" y="391" width="3" height="16" fill="#FF0000"/>
<rect x="2" y="485" width="3" height="13" fill="#696969"/>
<rect x="6" y="489" width="3" height="9" fill="#696969"/>
<rect x="10" y="490" width="3" height="8" fill="#696969"/>
<rect x="14" y="492" width="3" height="6" fill="#696969"/>
<rect x="18" y="494" width="3" height="4" fill="#696969"/>
<rect x="22" y="498" width="3" height="3" fill="#696969"/>
<rect x="26" y="498" width="3" height="6" fill="#696969"/>
<rect x="30" y="498" width="3" height="8" fill="#696969"/>
<rect x="34" y="498" width="3" height="6" fill="#696969"/>
<rect x="38" y="498" width="3" height="8" fill="#696969"/>
<rect x="42" y="498" width="3" height="14" fill="#696969"/>
<rect x="46" y="498" width="3" height="16" fill="#696969"/>
<rect x="50" y="498" width="3" height="26" fill="#696969"/>
<rect x="54" y="498" width="3" height="32" fill="#696969"/>
<rect x="58" y="498" width="3" height="34" fill="#696969"/>
<rect x="62" y="498" width="3" height="28" fill="#696969"/>
<rect x="66" y="498" width="3" height="22" fill="#696969"/>
<rect x="70" y="498" width="3" height="14" fill="#696969"/>
<rect x="74" y="498" width="3" height="12" fill="#696969"/>
<rect x="78" y="498" width="3" height="12" fill="#696969"/>
<rect x="82" y="498" width="3" height="12" fill="#696969"/>
<rect x="86" y="498" width="3" height="8" fill="#696969"/>
<rect x="90" y="498" width="3" height="6" fill="#696969"/>
<rect x="94" y="498" width="3" height="1" fill="#696969"/>
<rect x="98" y="495" width="3" height="3" fill="#696969"/>
<rect x="102" y="492" width="3" height="6" fill="#696969"/>
<rect x="106" y="489" width="3" height="9" fill="#696969"/>
<rect x="110" y="489" width="3" height="9" fill="#696969"/>
<rect x="114" y="485" width="3" height="13" fill="#696969"/>
<rect x="118" y="480" width="3" height="18" fill="#696969"/>
<rect x="122" y="476" width="3" height="22" fill="#696969"/>
<rect x="126" y="474" width="3" height="24" fill="#696969"/>
<rect x="130" y="472" width="3" height="26" fill="#696969"/>
<rect x="134" y="472" width="3" height="26" fill="#696969"/>
<rect x="138" y="470" width="3" height="28" fill="#696969"/>
<rect x="142" y="470" width="3" height="28" fill="#696969"/>
<rect x="146" y="468" width="3" height="30" fill="#696969"/>
<rect x="150" y="467" width="3" height="31" fill="#696969"/>
<rect x="154" y="467" width="3" height="31" fill="#696969"/>
<rect x="158" y="468" width="3" height="30" fill="#696969"/>
<rect x="162" y="471" width="3" height="27" fill="#696969"/>
<rect x="166" y="475" width="3" height="23" fill="#696969"/>
<rect x="170" y="476" width="3" height="22" fill="#696969"/>
<rect x="174" y="474" width="3" height="24" fill="#696969"/>
<rect x="178" y="472" width="3" height="26" fill="#696969"/>
<rect x="182" y="470" width="3" height="28" fill="#696969"/>
<rect x="186" y="474" width="3" height="24" fill="#696969"/>
<rect x="190" y="477" width="3" height="21" fill="#696969"/>
<rect x="194" y="476" width="3" height="22" fill="#696969"/>
<rect x="198" y="479" width="3" height="19" fill="#696969"/>
<rect x="202" y="479" width="3" height="19" fill="#696969"/>
<rect x="206" y="481" width="3" height="17" fill="#696969"/>
<rect x="210" y="485" width="3" height="13" fill="#696969"/>
<rect x="214" y="485" width="3" height="13" fill="#696969"/>
<rect x="218" y="486" width="3" height="12" fill="#696969"/>
<rect x="222" y="489" width="3" height="9" fill="#696969"/>
<rect x="226" y="488" width="3" height="10" fill="#696969"/>
<rect x="230" y="489" width="3" height="9" fill="#696969"/>
<rect x="234" y="487" width="3" height="11" fill="#696969"/>
<rect x="238" y="486" width="3" height="12" fill="#696969"/>
<rect x="242" y="487" width="3" height="11" fill="#696969"/>
<rect x="246" y="487" width="3" height="11" fill="#696969"/>
<rect x="250" y="489" width="3" height="9" fill="#696969"/>
<rect x="254" y="491" width="3" height="7" fill="#696969"/>
<rect x="258" y="494" width="3" height="4" fill="#696969"/>
<rect x="262" y="493" width="3" height="5" fill="#696969"/>
<rect x="266" y="489" width="3" height="9" fill="#696969"/>
<rect x="270" y="490" width="3" height="8" fill="#696969"/>
<rect x="274" y="493" width="3" height="5" fill="#696969"/>
<rect x="278" y="495" width="3" height="3" fill="#696969"/>
<rect x="282" y="494" width="3" height="4" fill="#696969"/>
<rect x="286" y="498" width="3" height="13" fill="#696969"/>
<rect x="290" y="498" width="3" height="20" fill="#696969"/>
<rect x="294" y="498" width="3" height="30" fill="#696969"/>
<rect x="298" y="498" width="3" height="35" fill="#696969"/>
<rect x="302" y="498" width="3" height="32" fill="#696969"/>
<rect x="306" y="498" width="3" height="29" fill="#696969"/>
<rect x="310" y="498" width="3" height="24" fill="#696969"/>
<rect x="314" y="498" width="3" height="23" fill="#696969"/>
<rect x="318" y="498" width="3" height="26" fill="#696969"/>
<rect x="322" y="498" width="3" height="26" fill="#696969"/>
<rect x="326" y="498" width="3" height="24" fill="#696969"/>
<rect x="330" y="498" width="3" height="23" fill="#696969"/>
<rect x="334" y="498" width="3" height="24" fill="#696969"/>
<rect x="338" y="498" width="3" height="22" fill="#696969"/>
<rect x="342" y="498" width="3" height="19" fill="#696969"/>
<rect x="346" y="498" width="3" height="17" fill="#696969"/>
<rect x="350" y="498" width="3" height="16" fill="#696969"/>
<rect x="354" y="498" width="3" height="14" fill="#696969"/>
<rect x="358" y="498" width="3" height="12" fill="#696969"/>
<rect x="362" y="498" width="3" height="11" fill="#696969"/>
<rect x="366" y="498" width="3" height="10" fill="#696969"/>
<rect x="370" y="498" width="3" height="12" fill="#696969"/>
<rect x="374" y="498" width="3" height="14" fill="#696969"/>
<rect x="378" y="498" width="3" height="12" fill="#696969"/>
<rect x="382" y="498" width="3" height="10" fill="#696969"/>
<rect x="386" y="498" width="3" height="12" fill="#696969"/>
<rect x="390" y="498" width="3" height="16" fill="#696969"/>
<rect x="394" y="498" width="3" height="18" fill="#696969"/>
<rect x="398" y="498" width="3" height="19" fill="#696969"/>
<rect x="402" y="498" width="3" height="19" fill="#696969"/>
<rect x="406" y="498" width="3" height="15" fill="#696969"/>
<rect x="410" y="498" width="3" height="11" fill="#696969"/>
<rect x="414" y="498" width="3" height="7" fill="#696969"/>
<rect x="418" y="498" width="3" height="7" fill="#696969"/>
<rect x="422" y="498" width="3" height="4" fill="#696969"/>
<rect x="426" y="498" width="3" height="1" fill="#696969"/>
<rect x="430" y="498" width="3" height="3" fill="#696969"/>
<rect x="434" y="498" width="3" height="5" fill="#696969"/>
<rect x="438" y="498" width="3" height="4" fill="#696969"/>
<rect x="442" y="498" width="3" height="2" fill="#696969"/>
<rect x="446" y="498" width="3" height="2" fill="#696969"/>
<rect x="450" y="498" width="3" height="2" fill="#696969"/>
<rect x="454" y="498" width="3" height="3" fill="#696969"/>
<rect x="458" y="498" width="3" height="5" fill="#696969"/>
<rect x="462" y="498" width="3" height="6" fill="#696969"/>
<rect x="466" y="498" width="3" height="10" fill="#696969"/>
<rect x="470" y="498" width="3" height="18" fill="#696969"/>
<rect x="474" y="498" width="3" height="25" fill="#696969"/>
<rect x="478" y="498" width="3" height="29" fill="#696969"/>
<rect x="482" y="498" width="3" height="36" fill="#696969"/>
<rect x="486" y="498" width="3" height="44" fill="#696969"/>
<rect x="490" y="498" width="3" height="48" fill="#696969"/>
<rect x="494" y="498" width="3" height="48" fill="#696969"/>
<rect x="498" y="498" width="3" height="43" fill="#696969"/>
<rect x="502" y="498" width="3" height="39" fill="#696969"/>
<rect x="506" y="498" width="3" height="34" fill="#696969"/>
<rect x="510" y="498" width="3" height="24" fill="#696969"/>
<rect x="514" y="498" width="3" height="21" fill="#696969"/>
<rect x="518" y="498" width="3" height="11" fill="#696969"/>
<rect x="522" y="498" width="3" height="1" fill="#696969"/>
<rect x="526" y="491" width="3" height="7" fill="#696969"/>
<rect x="530" y="493" width="3" height="5" fill="#696969"/>
<rect x="534" y="491" width="3" height="7" fill="#696969"/>
<rect x="538" y="493" width="3" height="5" fill="#696969"/>
<rect x="542" y="498" width="3" height="13" fill="#696969"/>
<rect x="546" y="498" width="3" height="28" fill="#696969"/>
<rect x="550" y="498" width="3" height="47" fill="#696969"/>
<rect x="554" y="498" width="3" height="58" fill="#696969"/>
<rect x="558" y="498" width="3" height="60" fill="#696969"/>
<rect x="562" y="498" width="3" height="58" fill="#696969"/>
<rect x="566" y="498" width="3" height="55" fill="#696969"/>
<rect x="570" y="498" width="3" height="51" fill="#696969"/>
<rect x="574" y="498" width="3" height="47" fill="#696969"/>
<rect x="578" y="498" width="3" height="45" fill="#696969"/>
<rect x="582" y="498" width="3" height="43" fill="#696969"/>
<rect x="586" y="498" width="3" height="40" fill="#696969"/>
<rect x="590" y="498" width="3" height="39" fill="#696969"/>
<rect x="594" y="498" width="3" height="40" fill="#696969"/>
<rect x="598" y="498" width="3" height="40" fill="#696969"/>
<rect x="602" y="498" width="3" height="36" fill="#696969"/>
<rect x="606" y="498" width="3" height="32" fill="#696969"/>
<rect x="610" y="498" width="3" height="29" fill="#696969"/>
<rect x="614" y="498" width="3" height="33" fill="#696969"/>
<rect x="618" y="498" width="3" height="40" fill="#696969"/>
<rect x="622" y="498" width="3" height="48" fill="#696969"/>
<rect x="626" y="498" width="3" height="54" fill="#696969"/>
<rect x="630" y="498" width="3" height="61" fill="#696969"/>
<rect x="634" y="498" width="3" height="65" fill="#696969"/>
<rect x="638" y="498" width="3" height="69" fill="#696969"/>
<rect x="642" y="498" width="3" height="71" fill="#696969"/>
<rect x="646" y="498" width="3" height="76" fill="#696969"/>
<rect x="650" y="498" width="3" height="71" fill="#696969"/>
<rect x="654" y="498" width="3" height="67" fill="#696969"/>
<rect x="658" y="498" width="3" height="66" fill="#696969"/>
<rect x="662" y="498" width="3" height="62" fill="#696969"/>
<rect x="666" y="498" width="3" height="55" fill="#696969"/>
<rect x="670" y="498" width="3" height="51" fill="#696969"/>
<rect x="674" y="498" width="3" height="46" fill="#696969"/>
<rect x="678" y="498" width="3" height="43" fill="#696969"/>
<rect x="682" y="498" width="3" height="42" fill="#696969"/>
<rect x="686" y="498" width="3" height="36" fill="#696969"/>
<rect x="690" y="498" width="3" height="30" fill="#696969"/>
<rect x="694" y="498" width="3" height="31" fill="#696969"/>
<rect x="698" y="498" width="3" height="31" fill="#696969"/>
<rect x="702" y="498" width="3" height="31" fill="#696969"/>
<rect x="706" y="498" width="3" height="30" fill="#696969"/>
<rect x="710" y="498" width="3" height="34" fill="#696969"/>
<rect x="714" y="498" width="3" height="34" fill="#696969"/>
<rect x="718" y="498" width="3" height="33" fill="#696969"/>
<rect x="722" y="498" width="3" height="32" fill="#696969"/>
<rect x="726" y="498" width="3" height="27" fill="#696969"/>
<rect x="730" y="498" width="3" height="25" fill="#696969"/>
<rect x="734" y="498" width="3" height="27" fill="#696969"/>
<rect x="3" y="481" width="1" height="1" fill="#FF0000"/>
<rect x="4" y="482" width="1" height="1" fill="#FF0000"/>
<rect x="5" y="482" width="1" height="1" fill="#FF0000"/>
<rect x="9" y="484" width="1" height="1" fill="#FF0000"/>
<rect x="10" y="484" width="1" height="1" fill="#FF0000"/>
<rect x="11" y="485" width="1" height="1" fill="#FF0000"/>
<rect x="15" y="488" width="1" height="1" fill="#FF0000"/>
<rect x="16" y="488" width="1" height="1" fill="#FF0000"/>
<rect x="17" y="489" width="1" height="1" fill="#FF0000"/>
<rect x="21" y="491" width="1" height="1" fill="#FF0000"/>
<rect x="22" y="492" width="1" height="1" fill="#FF0000"/>
<rect x="23" y="493" width="1" height="1" fill="#FF0000"/>
<rect x="27" y="495" width="1" height="1" fill="#FF0000"/>
<rect x="28" y="496" width="1" height="1" fill="#FF0000"/>
<rect x="29" y="497" width="1" height="1" fill="#FF0000"/>
<rect x="33" y="500" width="1" height="1" fill="#FF0000"/>
<rect x="34" y="500" width="1" height="1" fill="#FF0000"/>
<rect x="35" y="501" width="1" height="1" fill="#FF0000"/>
<rect x="39" y="504" width="1" height="1" fill="#FF0000"/>
<rect x="40" y="504" width="1" height="1" fill="#FF0000"/>
<rect x="41" y="505" width="1" height="1" fill="#FF0000"/>
<rect x="45" y="508" width="1" height="1" fill="#FF0000"/>
<rect x="46" y="509" width="1" height="1" fill="#FF0000"/>
<rect x="47" y="509" width="1" height="1" fill="#FF0000"/>
<rect x="51" y="512" width="1" height="1" fill="#FF0000"/>
<rect x="52" y="513" width="1" height="1" fill="#FF0000"/>
<rect x="53" y="514" width="1" height="1" fill="#FF0000"/>
<rect x="57" y="518" width="1" height="1" fill="#FF0000"/>
<rect x="58" y="519" width="1" height="1" fill="#FF0000"/>
<rect x="59" y="520" width="1" height="1" fill="#FF0000"/>
<rect x="63" y="524" width="1" height="1" fill="#FF0000"/>
<rect x="64" y="525" width="1" height="1" fill="#FF0000"/>
<rect x="65" y="526" width="1" height="1" fill="#FF0000"/>
<rect x="69" y="524" width="1" height="1" fill="#FF0000"/>
<rect x="70" y="523" width="1" height="1" fill="#FF0000"/>
<rect x="71" y="522" width="1" height="1" fill="#FF0000"/>
<rect x="74" y="519" width="1" height="1" fill="#FF0000"/>
<rect x="75" y="518" width="1" height="1" fill="#FF0000"/>
<rect x="76" y="517" width="1" height="1" fill="#FF0000"/>
<rect x="80" y="513" width="1" height="1" fill="#FF0000"/>
<rect x="80" y="512" width="1" height="1" fill="#FF0000"/>
<rect x="81" y="512" width="1" height="1" fill="#FF0000"/>
<rect x="85" y="510" width="1" height="1" fill="#FF0000"/>
<rect x="86" y="509" width="1" height="1" fill="#FF0000"/>
<rect x="87" y="509" width="1" height="1" fill="#FF0000"/>
<rect x="91" y="507" width="1" height="1" fill="#FF0000"/>
<rect x="92" y="506" width="1" height="1" fill="#FF0000"/>
<rect x="93" y="506" width="1" height="1" fill="#FF0000"/>
<rect x="97" y="504" width="1" height="1" fill="#FF0000"/>
<rect x="98" y="503" width="1" height="1" fill="#FF0000"/>
<rect x="99" y="502" width="1" height="1" fill="#FF0000"/>
<rect x="103" y="499" width="1" height="1" fill="#FF0000"/>
<rect x="104" y="498" width="1" height="1" fill="#FF0000"/>
<rect x="105" y="498" width="1" height="1" fill="#FF0000"/>
<rect x="109" y="494" width="1" height="1" fill="#FF0000"/>
<rect x="110" y="493" width="1" height="1" fill="#FF0000"/>
<rect x="111" y="492" width="1" height="1" fill="#FF0000"/>
<rect x="115" y="489" width="1" height="1" fill="#FF0000"/>
<rect x="116" y="489" width="1" height="1" fill="#FF0000"/>
<rect x="117" y="488" width="1" height="1" fill="#FF0000"/>
<rect x="121" y="485" width="1" height="1" fill="#FF0000"/>
<rect x="122" y="484" width="1" height="1" fill="#FF0000"/>
<rect x="123" y="483" width="1" height="1" fill="#FF0000"/>
<rect x="127" y="479" width="1" height="1" fill="#FF0000"/>
<rect x="128" y="478" width="1" height="1" fill="#FF0000"/>
<rect x="129" y="477" width="1" height="1" fill="#FF0000"/>
<rect x="133" y="475" width="1" height="1" fill="#FF0000"/>
<rect x="134" y="474" width="1" height="1" fill="#FF0000"/>
<rect x="135" y="474" width="1" height="1" fill="#FF0000"/>
<rect x="139" y="471" width="1" height="1" fill="#FF0000"/>
<rect x="140" y="470" width="1" height="1" fill="#FF0000"/>
<rect x="141" y="470" width="1" height="1" fill="#FF0000"/>
<rect x="145" y="470" width="1" height="1" fill="#FF0000"/>
<rect x="146" y="469" width="1" height="1" fill="#FF0000"/>
<rect x="147" y="469" width="1" height="1" fill="#FF0000"/>
<rect x="151" y="468" width="1" height="1" fill="#FF0000"/>
<rect x="152" y="468" width="1" height="1" fill="#FF0000"/>
<rect x="153" y="468" width="1" height="1" fill="#FF0000"/>
<rect x="157" y="467" width="1" height="1" fill="#FF0000"/>
<rect x="158" y="467" width="1" height="1" fill="#FF0000"/>
<rect x="159" y="467" width="1" height="1" fill="#FF0000"/>
<rect x="163" y="468" width="1" height="1" fill="#FF0000"/>
<rect x="164" y="468" width="1" height="1" fill="#FF0000"/>
<rect x="165" y="468" width="1" height="1" fill="#FF0000"/>
<rect x="169" y="470" width="1" height="1" fill="#FF0000"/>
<rect x="170" y="470" width="1" height="1" fill="#FF0000"/>
<rect x="171" y="471" width="1" height="1" fill="#FF0000"/>
<rect x="175" y="472" width="1" height="1" fill="#FF0000"/>
<rect x="176" y="472" width="1" height="1" fill="#FF0000"/>
<rect x="177" y="473" width="1" height="1" fill="#FF0000"/>
<rect x="181" y="473" width="1" height="1" fill="#FF0000"/>
<rect x="182" y="473" width="1" height="1" fill="#FF0000"/>
<rect x="183" y="473" width="1" height="1" fill="#FF0000"/>
<rect x="187" y="473" width="1" height="1" fill="#FF0000"/>
<rect x="188" y="473" width="1" height="1" fill="#FF0000"/>
<rect x="189" y="473" width="1" height="1" fill="#FF0000"/>
<rect x="193" y="473" width="1" height="1" fill="#FF0000"/>
<rect x="194" y="473" width="1" height="1" fill="#FF0000"/>
<rect x="195" y="473" width="1" height="1" fill="#FF0000"/>
<rect x="199" y="475" width="1" height="1" fill="#FF0000"/>
<rect x="200" y="475" width="1" height="1" fill="#FF0000"/>
<rect x="201" y="476" width="1" height="1" fill="#FF0000"/>
<rect x="205" y="477" width="1" height="1" fill="#FF0000"/>
<rect x="206" y="478" width="1" height="1" fill="#FF0000"/>
<rect x="207" y="478" width="1" height="1" fill="#FF0000"/>
<rect x="211" y="480" width="1" height="1" fill="#FF0000"/>
<rect x="212" y="480" width="1" height="1" fill="#FF0000"/>
<rect x="213" y="480" width="1" height="1" fill="#FF0000"/>
<rect x="217" y="482" width="1" height="1" fill="#FF0000"/>
<rect x="218" y="482" width="1" height="1" fill="#FF0000"/>
<rect x="219" y="483" width="1" height="1" fill="#FF0000"/>
<rect x="223" y="485" width="1" height="1" fill="#FF0000"/>
<rect x="224" y="485" width="1" height="1" fill="#FF0000"/>
<rect x="225" y="486" width="1" height="1" fill="#FF0000"/>
<rect x="229" y="487" width="1" height="1" fill="#FF0000"/>
<rect x="230" y="488" width="1" height="1" fill="#FF0000"/>
<rect x="231" y="488" width="1" height="1" fill="#FF0000"/>
<rect x="235" y="488" width="1" height="1" fill="#FF0000"/>
<rect x="236" y="488" width="1" height="1" fill="#FF0000"/>
<rect x="237" y="488" width="1" height="1" fill="#FF0000"/>
<rect x="241" y="487" width="1" height="1" fill="#FF0000"/>
<rect x="242" y="487" width="1" height="1" fill="#FF0000"/>
<rect x="243" y="487" width="1" height="1" fill="#FF0000"/>
<rect x="247" y="487" width="1" height="1" fill="#FF0000"/>
<rect x="248" y="487" width="1" height="1" fill="#FF0000"/>
<rect x="249" y="487" width="1" height="1" fill="#FF0000"/>
<rect x="253" y="487" width="1" height="1" fill="#FF0000"/>
<rect x="254" y="488" width="1" height="1" fill="#FF0000"/>
<rect x="255" y="488" width="1" height="1" fill="#FF0000"/>
<rect x="259" y="490" width="1" height="1" fill="#FF0000"/>
<rect x="260" y="490" width="1" height="1" fill="#FF0000"/>
<rect x="261" y="490" width="1" height="1" fill="#FF0000"/>
<rect x="265" y="490" width="1" height="1" fill="#FF0000"/>
<rect x="266" y="490" width="1" height="1" fill="#FF0000"/>
<rect x="267" y="491" width="1" height="1" fill="#FF0000"/>
<rect x="271" y="491" width="1" height="1" fill="#FF0000"/>
<rect x="272" y="491" width="1" height="1" fill="#FF0000"/>
<rect x="273" y="491" width="1" height="1" fill="#FF0000"/>
<rect x="277" y="492" width="1" height="1" fill="#FF0000"/>
<rect x="278" y="492" width="1" height="1" fill="#FF0000"/>
<rect x="279" y="492" width="1" height="1" fill="#FF0000"/>
<rect x="283" y="493" width="1" height="1" fill="#FF0000"/>
<rect x="284" y="494" width="1" height="1" fill="#FF0000"/>
<rect x="285" y="495" width="1" height="1" fill="#FF0000"/>
<rect x="289" y="499" width="1" height="1" fill="#FF0000"/>
<rect x="290" y="500" width="1" height="1" fill="#FF0000"/>
<rect x="291" y="501" width="1" height="1" fill="#FF0000"/>
<rect x="293" y="505" width="1" height="1" fill="#FF0000"/>
<rect x="293" y="506" width="1" height="1" fill="#FF0000"/>
<rect x="294" y="507" width="1" height="1" fill="#FF0000"/>
<rect x="297" y="511" width="1" height="1" fill="#FF0000"/>
<rect x="297" y="512" width="1" height="1" fill="#FF0000"/>
<rect x="298" y="513" width="1" height="1" fill="#FF0000"/>
<rect x="301" y="517" width="1" height="1" fill="#FF0000"/>
<rect x="301" y="518" width="1" height="1" fill="#FF0000"/>
<rect x="302" y="519" width="1" height="1" fill="#FF0000"/>
<rect x="305" y="523" width="1" height="1" fill="#FF0000"/>
<rect x="306" y="524" width="1" height="1" fill="#FF0000"/>
<rect x="307" y="524" width="1" height="1" fill="#FF0000"/>
<rect x="311" y="526" width="1" height="1" fill="#FF0000"/>
<rect x="312" y="526" width="1" height="1" fill="#FF0000"/>
<rect x="313" y="526" width="1" height="1" fill="#FF0000"/>
<rect x="317" y="525" width="1" height="1" fill="#FF0000"/>
<rect x="318" y="525" width="1" height="1" fill="#FF0000"/>
<rect x="319" y="524" width="1" height="1" fill="#FF0000"/>
<rect x="323" y="523" width="1" height="1" fill="#FF0000"/>
<rect x="324" y="523" width="1" height="1" fill="#FF0000"/>
<rect x="325" y="523" width="1" height="1" fill="#FF0000"/>
<rect x="329" y="522" width="1" height="1" fill="#FF0000"/>
<rect x="330" y="522" width="1" height="1" fill="#FF0000"/>
<rect x="331" y="522" width="1" height="1" fill="#FF0000"/>
<rect x="335" y="522" width="1" height="1" fill="#FF0000"/>
<rect x="336" y="522" width="1" height="1" fill="#FF0000"/>
<rect x="337" y="521" width="1" height="1" fill="#FF0000"/>
<rect x="341" y="521" width="1" height="1" fill="#FF0000"/>
<rect x="342" y="520" width="1" height="1" fill="#FF0000"/>
<rect x="343" y="520" width="1" height="1" fill="#FF0000"/>
<rect x="347" y="518" width="1" height="1" fill="#FF0000"/>
<rect x="348" y="518" width="1" height="1" fill="#FF0000"/>
<rect x="349" y="517" width="1" height="1" fill="#FF0000"/>
<rect x="353" y="515" width="1" height="1" fill="#FF0000"/>
<rect x="354" y="515" width="1" height="1" fill="#FF0000"/>
<rect x="355" y="515" width="1" height="1" fill="#FF0000"/>
<rect x="359" y="513" width="1" height="1" fill="#FF0000"/>
<rect x="360" y="512" width="1" height="1" fill="#FF0000"/>
<rect x="361" y="512" width="1" height="1" fill="#FF0000"/>
<rect x="365" y="510" width="1" height="1" fill="#FF0000"/>
<rect x="366" y="510" width="1" height="1" fill="#FF0000"/>
<rect x="367" y="510" width="1" height="1" fill="#FF0000"/>
<rect x="371" y="509" width="1" height="1" fill="#FF0000"/>
<rect x="372" y="509" width="1" height="1" fill="#FF0000"/>
<rect x="373" y="509" width="1" height="1" fill="#FF0000"/>
<rect x="377" y="509" width="1" height="1" fill="#FF0000"/>
<rect x="378" y="509" width="1" height="1" fill="#FF0000"/>
<rect x="379" y="509" width="1" height="1" fill="#FF0000"/>
<rect x="383" y="509" width="1" height="1" fill="#FF0000"/>
<rect x="384" y="509" width="1" height="1" fill="#FF0000"/>
<rect x="385" y="509" width="1" height="1" fill="#FF0000"/>
<rect x="389" y="510" width="1" height="1" fill="#FF0000"/>
<rect x="390" y="510" width="1" height="1" fill="#FF0000"/>
<rect x="391" y="510" width="1" height="1" fill="#FF0000"/>
<rect x="395" y="511" width="1" height="1" fill="#FF0000"/>
<rect x="396" y="511" width="1" height="1" fill="#FF0000"/>
<rect x="397" y="511" width="1" height="1" fill="#FF0000"/>
<rect x="401" y="512" width="1" height="1" fill="#FF0000"/>
<rect x="402" y="512" width="1" height="1" fill="#FF0000"/>
<rect x="403" y="512" width="1" height="1" fill="#FF0000"/>
<rect x="407" y="513" width="1" height="1" fill="#FF0000"/>
<rect x="408" y="514" width="1" height="1" fill="#FF0000"/>
<rect x="409" y="513" width="1" height="1" fill="#FF0000"/>
<rect x="413" y="512" width="1" height="1" fill="#FF0000"/>
<rect x="414" y="511" width="1" height="1" fill="#FF0000"/>
<rect x="415" y="511" width="1" height="1" fill="#FF0000"/>
<rect x="419" y="508" width="1" height="1" fill="#FF0000"/>
<rect x="420" y="508" width="1" height="1" fill="#FF0000"/>
<rect x="421" y="507" width="1" height="1" fill="#FF0000"/>
<rect x="425" y="504" width="1" height="1" fill="#FF0000"/>
<rect x="426" y="504" width="1" height="1" fill="#FF0000"/>
<rect x="427" y="503" width="1" height="1" fill="#FF0000"/>
<rect x="431" y="501" width="1" height="1" fill="#FF0000"/>
<rect x="432" y="500" width="1" height="1" fill="#FF0000"/>
<rect x="433" y="500" width="1" height="1" fill="#FF0000"/>
<rect x="437" y="500" width="1" height="1" fill="#FF0000"/>
<rect x="438" y="500" width="1" height="1" fill="#FF0000"/>
<rect x="439" y="500" width="1" height="1" fill="#FF0000"/>
<rect x="443" y="500" width="1" height="1" fill="#FF0000"/>
<rect x="444" y="500" width="1" height="1" fill="#FF0000"/>
<rect x="445" y="500" width="1" height="1" fill="#FF0000"/>
<rect x="449" y="500" width="1" height="1" fill="#FF0000"/>
<rect x="450" y="500" width="1" height="1" fill="#FF0000"/>
<rect x="451" y="500" width="1" height="1" fill="#FF0000"/>
<rect x="455" y="500" width="1" height="1" fill="#FF0000"/>
<rect x="456" y="500" width="1" height="1" fill="#FF0000"/>
<rect x="457" y="500" width="1" height="1" fill="#FF0000"/>
<rect x="461" y="500" width="1" height="1" fill="#FF0000"/>
<rect x="462" y="500" width="1" height="1" fill="#FF0000"/>
<rect x="463" y="500" width="1" height="1" fill="#FF0000"/>
<rect x="467" y="502" width="1" height="1" fill="#FF0000"/>
<rect x="468" y="502" width="1" height="1" fill="#FF0000"/>
<rect x="469" y="503" width="1" height="1" fill="#FF0000"/>
<rect x="473" y="505" width="1" height="1" fill="#FF0000"/>
<rect x="473" y="506" width="1" height="1" fill="#FF0000"/>
<rect x="474" y="507" width="1" height="1" fill="#FF0000"/>
<rect x="477" y="511" width="1" height="1" fill="#FF0000"/>
<rect x="478" y="512" width="1" height="1" fill="#FF0000"/>
<rect x="479" y="513" width="1" height="1" fill="#FF0000"/>
<rect x="481" y="517" width="1" height="1" fill="#FF0000"/>
<rect x="482" y="518" width="1" height="1" fill="#FF0000"/>
<rect x="483" y="519" width="1" height="1" fill="#FF0000"/>
<rect x="485" y="523" width="1" height="1" fill="#FF0000"/>
<rect x="486" y="524" width="1" height="1" fill="#FF0000"/>
<rect x="486" y="525" width="1" height="1" fill="#FF0000"/>
<rect x="489" y="529" width="1" height="1" fill="#FF0000"/>
<rect x="489" y="530" width="1" height="1" fill="#FF0000"/>
<rect x="490" y="531" width="1" height="1" fill="#FF0000"/>
<rect x="493" y="535" width="1" height="1" fill="#FF0000"/>
<rect x="494" y="536" width="1" height="1" fill="#FF0000"/>
<rect x="495" y="537" width="1" height="1" fill="#FF0000"/>
<rect x="499" y="540" width="1" height="1" fill="#FF0000"/>
<rect x="500" y="540" width="1" height="1" fill="#FF0000"/>
<rect x="501" y="541" width="1" height="1" fill="#FF0000"/>
<rect x="505" y="541" width="1" height="1" fill="#FF0000"/>
<rect x="506" y="540" width="1" height="1" fill="#FF0000"/>
<rect x="507" y="540" width="1" height="1" fill="#FF0000"/>
<rect x="511" y="537" width="1" height="1" fill="#FF0000"/>
<rect x="511" y="536" width="1" height="1" fill="#FF0000"/>
<rect x="512" y="535" width="1" height="1" fill="#FF0000"/>
<rect x="515" y="531" width="1" height="1" fill="#FF0000"/>
<rect x="515" y="530" width="1" height="1" fill="#FF0000"/>
<rect x="516" y="529" width="1" height="1" fill="#FF0000"/>
<rect x="518" y="525" width="1" height="1" fill="#FF0000"/>
<rect x="518" y="524" width="1" height="1" fill="#FF0000"/>
<rect x="519" y="523" width="1" height="1" fill="#FF0000"/>
<rect x="521" y="519" width="1" height="1" fill="#FF0000"/>
<rect x="521" y="518" width="1" height="1" fill="#FF0000"/>
<rect x="522" y="517" width="1" height="1" fill="#FF0000"/>
<rect x="524" y="513" width="1" height="1" fill="#FF0000"/>
<rect x="525" y="512" width="1" height="1" fill="#FF0000"/>
<rect x="525" y="511" width="1" height="1" fill="#FF0000"/>
<rect x="527" y="507" width="1" height="1" fill="#FF0000"/>
<rect x="528" y="506" width="1" height="1" fill="#FF0000"/>
<rect x="529" y="505" width="1" height="1" fill="#FF0000"/>
<rect x="532" y="501" width="1" height="1" fill="#FF0000"/>
<rect x="532" y="500" width="1" height="1" fill="#FF0000"/>
<rect x="533" y="499" width="1" height="1" fill="#FF0000"/>
<rect x="537" y="495" width="1" height="1" fill="#FF0000"/>
<rect x="538" y="494" width="1" height="1" fill="#FF0000"/>
<rect x="539" y="494" width="1" height="1" fill="#FF0000"/>
<rect x="543" y="495" width="1" height="1" fill="#FF0000"/>
<rect x="544" y="496" width="1" height="1" fill="#FF0000"/>
<rect x="545" y="497" width="1" height="1" fill="#FF0000"/>
<rect x="547" y="501" width="1" height="1" fill="#FF0000"/>
<rect x="548" y="502" width="1" height="1" fill="#FF0000"/>
<rect x="548" y="503" width="1" height="1" fill="#FF0000"/>
<rect x="549" y="507" width="1" height="1" fill="#FF0000"/>
<rect x="550" y="508" width="1" height="1" fill="#FF0000"/>
<rect x="550" y="509" width="1" height="1" fill="#FF0000"/>
<rect x="552" y="513" width="1" height="1" fill="#FF0000"/>
<rect x="552" y="514" width="1" height="1" fill="#FF0000"/>
<rect x="552" y="515" width="1" height="1" fill="#FF0000"/>
<rect x="554" y="519" width="1" height="1" fill="#FF0000"/>
<rect x="554" y="520" width="1" height="1" fill="#FF0000"/>
<rect x="555" y="521" width="1" height="1" fill="#FF0000"/>
<rect x="556" y="525" width="1" height="1" fill="#FF0000"/>
<rect x="556" y="526" width="1" height="1" fill="#FF0000"/>
<rect x="557" y="527" width="1" height="1" fill="#FF0000"/>
<rect x="558" y="531" width="1" height="1" fill="#FF0000"/>
<rect x="559" y="532" width="1" height="1" fill="#FF0000"/>
<rect x="559" y="533" width="1" height="1" fill="#FF0000"/>
<rect x="560" y="537" width="1" height="1" fill="#FF0000"/>
<rect x="561" y="538" width="1" height="1" fill="#FF0000"/>
<rect x="561" y="539" width="1" height="1" fill="#FF0000"/>
<rect x="563" y="543" width="1" height="1" fill="#FF0000"/>
<rect x="563" y="544" width="1" height="1" fill="#FF0000"/>
<rect x="564" y="545" width="1" height="1" fill="#FF0000"/>
<rect x="566" y="549" width="1" height="1" fill="#FF0000"/>
<rect x="566" y="550" width="1" height="1" fill="#FF0000"/>
<rect x="567" y="551" width="1" height="1" fill="#FF0000"/>
<rect x="571" y="553" width="1" height="1" fill="#FF0000"/>
<rect x="572" y="552" width="1" height="1" fill="#FF0000"/>
<rect x="573" y="552" width="1" height="1" fill="#FF0000"/>
<rect x="577" y="550" width="1" height="1" fill="#FF0000"/>
<rect x="578" y="549" width="1" height="1" fill="#FF0000"/>
<rect x="579" y="548" width="1" height="1" fill="#FF0000"/>
<rect x="583" y="545" width="1" height="1" fill="#FF0000"/>
<rect x="584" y="544" width="1" height="1" fill="#FF0000"/>
<rect x="585" y="544" width="1" height="1" fill="#FF0000"/>
<rect x="589" y="541" width="1" height="1" fill="#FF0000"/>
<rect x="590" y="540" width="1" height="1" fill="#FF0000"/>
<rect x="591" y="540" width="1" height="1" fill="#FF0000"/>
<rect x="595" y="538" width="1" height="1" fill="#FF0000"/>
<rect x="596" y="538" width="1" height="1" fill="#FF0000"/>
<rect x="597" y="537" width="1" height="1" fill="#FF0000"/>
<rect x="601" y="536" width="1" height="1" fill="#FF0000"/>
<rect x="602" y="536" width="1" height="1" fill="#FF0000"/>
<rect x="603" y="535" width="1" height="1" fill="#FF0000"/>
<rect x="607" y="533" width="1" height="1" fill="#FF0000"/>
<rect x="608" y="532" width="1" height="1" fill="#FF0000"/>
<rect x="609" y="532" width="1" height="1" fill="#FF0000"/>
<rect x="613" y="531" width="1" height="1" fill="#FF0000"/>
<rect x="614" y="531" width="1" height="1" fill="#FF0000"/>
<rect x="615" y="531" width="1" height="1" fill="#FF0000"/>
<rect x="619" y="532" width="1" height="1" fill="#FF0000"/>
<rect x="620" y="532" width="1" height="1" fill="#FF0000"/>
<rect x="621" y="533" width="1" height="1" fill="#FF0000"/>
<rect x="625" y="536" width="1" height="1" fill="#FF0000"/>
<rect x="626" y="537" width="1" height="1" fill="#FF0000"/>
<rect x="627" y="538" width="1" height="1" fill="#FF0000"/>
<rect x="630" y="541" width="1" height="1" fill="#FF0000"/>
<rect x="630" y="542" width="1" height="1" fill="#FF0000"/>
<rect x="631" y="543" width="1" height="1" fill="#FF0000"/>
<rect x="633" y="547" width="1" height="1" fill="#FF0000"/>
<rect x="634" y="548" width="1" height="1" fill="#FF0000"/>
<rect x="634" y="549" width="1" height="1" fill="#FF0000"/>
<rect x="637" y="553" width="1" height="1" fill="#FF0000"/>
<rect x="637" y="554" width="1" height="1" fill="#FF0000"/>
<rect x="638" y="555" width="1" height="1" fill="#FF0000"/>
<rect x="642" y="559" width="1" height="1" fill="#FF0000"/>
<rect x="643" y="560" width="1" height="1" fill="#FF0000"/>
<rect x="644" y="561" width="1" height="1" fill="#FF0000"/>
<rect x="647" y="564" width="1" height="1" fill="#FF0000"/>
<rect x="648" y="565" width="1" height="1" fill="#FF0000"/>
<rect x="649" y="566" width="1" height="1" fill="#FF0000"/>
<rect x="653" y="568" width="1" height="1" fill="#FF0000"/>
<rect x="654" y="568" width="1" height="1" fill="#FF0000"/>
<rect x="655" y="568" width="1" height="1" fill="#FF0000"/>
<rect x="659" y="567" width="1" height="1" fill="#FF0000"/>
<rect x="660" y="567" width="1" height="1" fill="#FF0000"/>
<rect x="661" y="566" width="1" height="1" fill="#FF0000"/>
<rect x="665" y="565" width="1" height="1" fill="#FF0000"/>
<rect x="665" y="564" width="1" height="1" fill="#FF0000"/>
<rect x="666" y="563" width="1" height="1" fill="#FF0000"/>
<rect x="669" y="559" width="1" height="1" fill="#FF0000"/>
<rect x="670" y="558" width="1" height="1" fill="#FF0000"/>
<rect x="671" y="557" width="1" height="1" fill="#FF0000"/>
<rect x="674" y="553" width="1" height="1" fill="#FF0000"/>
<rect x="675" y="552" width="1" height="1" fill="#FF0000"/>
<rect x="676" y="551" width="1" height="1" fill="#FF0000"/>
<rect x="680" y="547" width="1" height="1" fill="#FF0000"/>
<rect x="680" y="546" width="1" height="1" fill="#FF0000"/>
<rect x="681" y="546" width="1" height="1" fill="#FF0000"/>
<rect x="684" y="543" width="1" height="1" fill="#FF0000"/>
<rect x="684" y="542" width="1" height="1" fill="#FF0000"/>
<rect x="685" y="542" width="1" height="1" fill="#FF0000"/>
<rect x="688" y="539" width="1" height="1" fill="#FF0000"/>
<rect x="688" y="538" width="1" height="1" fill="#FF0000"/>
<rect x="689" y="538" width="1" height="1" fill="#FF0000"/>
<rect x="693" y="534" width="1" height="1" fill="#FF0000"/>
<rect x="694" y="534" width="1" height="1" fill="#FF0000"/>
<rect x="695" y="533" width="1" height="1" fill="#FF0000"/>
<rect x="699" y="531" width="1" height="1" fill="#FF0000"/>
<rect x="700" y="530" width="1" height="1" fill="#FF0000"/>
<rect x="701" y="530" width="1" height="1" fill="#FF0000"/>
<rect x="705" y="528" width="1" height="1" fill="#FF0000"/>
<rect x="706" y="528" width="1" height="1" fill="#FF0000"/>
<rect x="707" y="528" width="1" height="1" fill="#FF0000"/>
<rect x="711" y="528" width="1" height="1" fill="#FF0000"/>
<rect x="712" y="528" width="1" height="1" fill="#FF0000"/>
<rect x="713" y="529" width="1" height="1" fill="#FF0000"/>
<rect x="717" y="529" width="1" height="1" fill="#FF0000"/>
<rect x="718" y="529" width="1" height="1" fill="#FF0000"/>
<rect x="719" y="529" width="1" height="1" fill="#FF0000"/>
<rect x="723" y="529" width="1" height="1" fill="#FF0000"/>
<rect x="724" y="529" width="1" height="1" fill="#FF0000"/>
<rect x="725" y="529" width="1" height="1" fill="#FF0000"/>
<rect x="729" y="528" width="1" height="1" fill="#FF0000"/>
<rect x="730" y="528" width="1" height="1" fill="#FF0000"/>
<rect x="731" y="527" width="1" height="1" fill="#FF0000"/>
<rect x="735" y="526" width="1" height="1" fill="#FF0000"/>
</g>
<g shape-rendering="crispEdges">
<rect x="2" y="2" width="759" height="1" fill="#000"/>
<rect x="2" y="2" width="1" height="457" fill="#000"/>
<rect x="2" y="460" width="1" height="120" fill="#000"/>
<rect x="760" y="2" width="1" height="578" fill="#000"/>
<rect x="2" y="458" width="759" height="1" fill="#000"/>
<rect x="2" y="460" width="759" height="1" fill="#000"/>
<rect x="2" y="579" width="759" height="1" fill="#000"/>
<rect x="761" y="9" width="2" height="1" fill="#000"/>
<rect x="761" y="46" width="2" height="1" fill="#000"/>
<rect x="761" y="83" width="2" height="1" fill="#000"/>
<rect x="761" y="120" width="2" height="1" fill="#000"/>
<rect x="761" y="157" width="2" height="1" fill="#000"/>
<rect x="761" y="194" width="2" height="1" fill="#000"/>
<rect x="761" y="231" width="2" height="1" fill="#000"/>
<rect x="761" y="267" width="2" height="1" fill="#000"/>
<rect x="761" y="304" width="2" height="1" fill="#000"/>
<rect x="761" y="341" width="2" height="1" fill="#000"/>
<rect x="761" y="378" width="2" height="1" fill="#000"/>
<rect x="761" y="415" width="2" height="1" fill="#000"/>
<rect x="761" y="452" width="2" height="1" fill="#000"/>
<rect x="761" y="462" width="1" height="1" fill="#000"/>
<rect x="761" y="498" width="1" height="1" fill="#000"/>
<rect x="761" y="578" width="1" height="1" fill="#000"/>
<rect x="3" y="580" width="1" height="3" fill="#000"/>
<rect x="67" y="580" width="1" height="3" fill="#000"/>
<rect x="131" y="580" width="1" height="3" fill="#000"/>
<rect x="195" y="580" width="1" height="3" fill="#000"/>
<rect x="259" y="580" width="1" height="3" fill="#000"/>
<rect x="323" y="580" width="1" height="3" fill="#000"/>
<rect x="387" y="580" width="1" height="3" fill="#000"/>
<rect x="451" y="580" width="1" height="3" fill="#000"/>
<rect x="515" y="580" width="1" height="3" fill="#000"/>
<rect x="579" y="580" width="1" height="3" fill="#000"/>
<rect x="643" y="580" width="1" height="3" fill="#000"/>
<rect x="707" y="580" width="1" height="3" fill="#000"/>
<rect x="6" y="9" width="7" height="1" fill="#000"/>
<rect x="7" y="10" width="5" height="1" fill="#000"/>
<rect x="8" y="11" width="3" height="1" fill="#000"/>
<rect x="9" y="12" width="1" height="1" fill="#000"/>
</g>
<g font-family="Liberation Sans, sans-serif" font-size="9.3px">
<text transform="translate(17.7,14) scale(1.0,1)" fill="#000" stroke="#000" stroke-width="0.1">EURUSD,H1</text>
<text transform="translate(77.7,14) scale(1.0,1)" fill="#000" stroke="#000" stroke-width="0.1">1.0743 1.0791 1.0714 1.0729</text>
<text transform="translate(7.0,473) scale(1.03,1)" fill="#000" stroke="#000" stroke-width="0.1">MACD(5,34,5)</text>
<text transform="translate(71.3,473) scale(1.0,1)" fill="#000" stroke="#000" stroke-width="0.1">-0.00247</text>
<text transform="translate(110.4,473) scale(1.0,1)" fill="#000" stroke="#000" stroke-width="0.1">-0.00264</text>
<text transform="translate(766.2,12.2) scale(1.0,1)" fill="#000" stroke="#000" stroke-width="0.1">1.1105</text>
<text transform="translate(766.2,49.2) scale(1.0,1)" fill="#000" stroke="#000" stroke-width="0.1">1.1070</text>
<text transform="translate(766.2,86.2) scale(1.0,1)" fill="#000" stroke="#000" stroke-width="0.1">1.1035</text>
<text transform="translate(766.2,123.2) scale(1.0,1)" fill="#000" stroke="#000" stroke-width="0.1">1.1000</text>
<text transform="translate(766.2,160.2) scale(1.0,1)" fill="#000" stroke="#000" stroke-width="0.1">1.0965</text>
<text transform="translate(766.2,197.2) scale(1.0,1)" fill="#000" stroke="#000" stroke-width="0.1">1.0930</text>
<text transform="translate(766.2,234.2) scale(1.0,1)" fill="#000" stroke="#000" stroke-width="0.1">1.0895</text>
<text transform="translate(766.2,270.2) scale(1.0,1)" fill="#000" stroke="#000" stroke-width="0.1">1.0860</text>
<text transform="translate(766.2,307.2) scale(1.0,1)" fill="#000" stroke="#000" stroke-width="0.1">1.0825</text>
<text transform="translate(766.2,344.2) scale(1.0,1)" fill="#000" stroke="#000" stroke-width="0.1">1.0790</text>
<text transform="translate(766.2,381.2) scale(1.0,1)" fill="#000" stroke="#000" stroke-width="0.1">1.0755</text>
<text transform="translate(766.2,418.2) scale(1.0,1)" fill="#000" stroke="#000" stroke-width="0.1">1.0720</text>
<text transform="translate(766.2,455.2) scale(1.0,1)" fill="#000" stroke="#000" stroke-width="0.1">1.0685</text>
<text transform="translate(763.9,470.6) scale(1.0,1)" fill="#000" stroke="#000" stroke-width="0.1">0.0035</text>
<text transform="translate(763.9,501.6) scale(1.0,1)" fill="#000" stroke="#000" stroke-width="0.1">0.00</text>
<text transform="translate(763.9,575.5) scale(1.0,1)" fill="#000" stroke="#000" stroke-width="0.1">-0.00762</text>
<text transform="translate(2,591.2) scale(1.0,1)" fill="#000" stroke="#000" stroke-width="0.1">23 Dec 2015</text>
<text transform="translate(66,591.2) scale(1.0,1)" fill="#000" stroke="#000" stroke-width="0.1">23 Dec 21:00</text>
<text transform="translate(130,591.2) scale(1.0,1)" fill="#000" stroke="#000" stroke-width="0.1">28 Dec 00:00</text>
<text transform="translate(194,591.2) scale(1.0,1)" fill="#000" stroke="#000" stroke-width="0.1">28 Dec 16:00</text>
<text transform="translate(258,591.2) scale(1.0,1)" fill="#000" stroke="#000" stroke-width="0.1">29 Dec 08:00</text>
<text transform="translate(322,591.2) scale(1.0,1)" fill="#000" stroke="#000" stroke-width="0.1">30 Dec 00:00</text>
<text transform="translate(386,591.2) scale(1.0,1)" fill="#000" stroke="#000" stroke-width="0.1">30 Dec 16:00</text>
<text transform="translate(450,591.2) scale(1.0,1)" fill="#000" stroke="#000" stroke-width="0.1">31 Dec 08:00</text>
<text transform="translate(514,591.2) scale(1.0,1)" fill="#000" stroke="#000" stroke-width="0.1">4 Jan 08:00</text>
<text transform="translate(578,591.2) scale(1.0,1)" fill="#000" stroke="#000" stroke-width="0.1">5 Jan 00:00</text>
<text transform="translate(642,591.2) scale(1.0,1)" fill="#000" stroke="#000" stroke-width="0.1">5 Jan 16:00</text>
<text transform="translate(706,591.2) scale(1.0,1)" fill="#000" stroke="#000" stroke-width="0.1">6 Jan 08:00</text>
</g>
<g shape-rendering="crispEdges">
<rect x="762" y="13" width="36" height="11" fill="#FF0000"/>
<rect x="762" y="48" width="36" height="11" fill="#FF0000"/>
<rect x="762" y="102" width="36" height="11" fill="#FF0000"/>
<rect x="762" y="121" width="36" height="11" fill="#FF0000"/>
<rect x="762" y="172" width="36" height="11" fill="#FF0000"/>
<rect x="762" y="219" width="36" height="11" fill="#FF0000"/>
<rect x="762" y="284" width="36" height="11" fill="#FF0000"/>
<rect x="762" y="353" width="36" height="11" fill="#FF0000"/>
<rect x="762" y="430" width="36" height="11" fill="#FF0000"/>
<rect x="762" y="441" width="36" height="11" fill="#FF0000"/>
<rect x="762" y="401" width="36" height="11" fill="#000"/>
</g>
<g font-family="Liberation Sans, sans-serif" font-size="9.3px">
<text transform="translate(766.1,21.4) scale(1.0,1)" fill="#fff" stroke="#fff" stroke-width="0.1">1.1096</text>
<text transform="translate(766.1,56.4) scale(1.0,1)" fill="#fff" stroke="#fff" stroke-width="0.1">1.1062</text>
<text transform="translate(766.1,110.4) scale(1.0,1)" fill="#fff" stroke="#fff" stroke-width="0.1">1.1011</text>
<text transform="translate(766.1,129.4) scale(1.0,1)" fill="#fff" stroke="#fff" stroke-width="0.1">1.0993</text>
<text transform="translate(766.1,180.4) scale(1.0,1)" fill="#fff" stroke="#fff" stroke-width="0.1">1.0945</text>
<text transform="translate(766.1,227.4) scale(1.0,1)" fill="#fff" stroke="#fff" stroke-width="0.1">1.0900</text>
<text transform="translate(766.1,292.4) scale(1.0,1)" fill="#fff" stroke="#fff" stroke-width="0.1">1.0838</text>
<text transform="translate(766.1,361.4) scale(1.0,1)" fill="#fff" stroke="#fff" stroke-width="0.1">1.0773</text>
<text transform="translate(766.1,438.4) scale(1.0,1)" fill="#fff" stroke="#fff" stroke-width="0.1">1.0700</text>
<text transform="translate(766.1,449.4) scale(1.0,1)" fill="#fff" stroke="#fff" stroke-width="0.1">1.0690</text>
<text transform="translate(766.1,409.5) scale(1.0,1)" fill="#fff" stroke="#fff" stroke-width="0.1">1.0729</text>
</g>
</svg>
</body></html>
